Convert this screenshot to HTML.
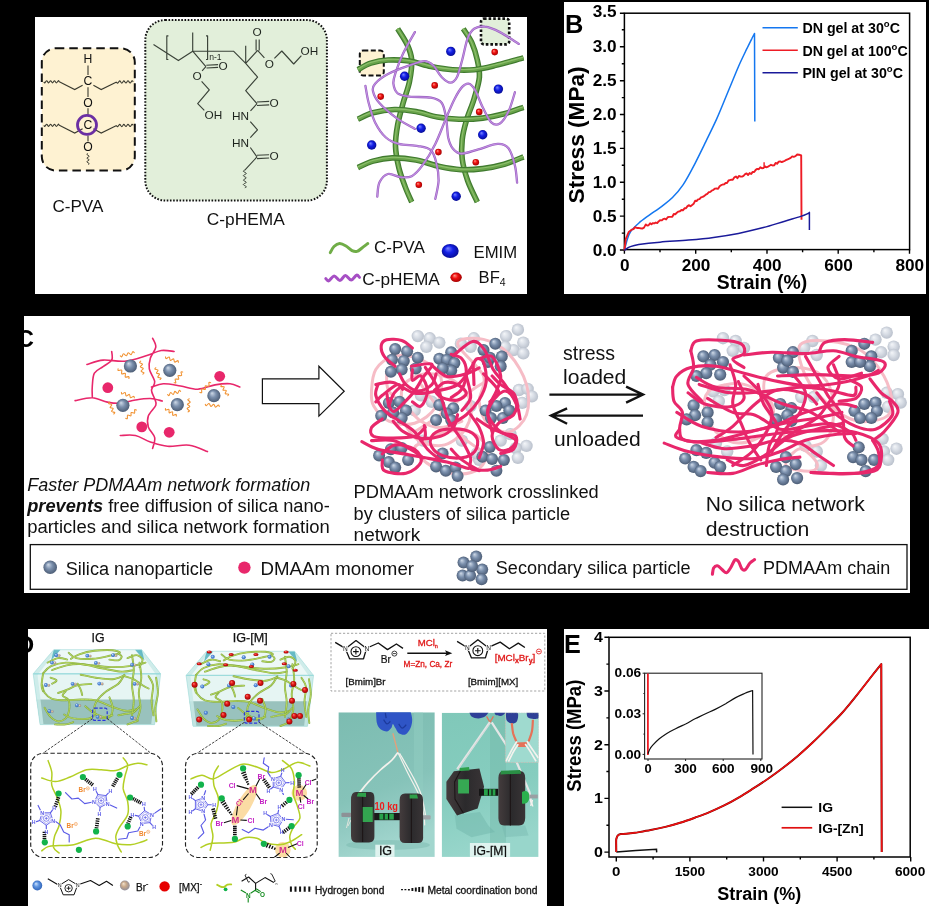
<!DOCTYPE html>
<html><head><meta charset="utf-8"><title>figure</title>
<style>
html,body{margin:0;padding:0;background:#000;}
body{width:929px;height:906px;overflow:hidden;font-family:"Liberation Sans",sans-serif;}
svg{display:block;will-change:transform;}
text{font-family:"Liberation Sans",sans-serif;}
</style></head><body>
<svg width="929" height="906" viewBox="0 0 929 906">
<rect width="929" height="906" fill="#000"/>
<rect x="35" y="17" width="492" height="277" fill="#fff"/>
<rect x="564" y="2" width="362" height="292" fill="#fff"/>
<rect x="24" y="316" width="886" height="277" fill="#fff"/>
<rect x="28" y="629" width="519" height="277" fill="#fff"/>
<rect x="564" y="629" width="365" height="277" fill="#fff"/>
<!-- defs -->
<defs>
<radialGradient id="gBlue" cx="0.5" cy="0.5" r="0.55" fx="0.35" fy="0.3"><stop offset="0" stop-color="#7a86ff"/><stop offset="0.45" stop-color="#1420e6"/><stop offset="1" stop-color="#050a8c"/></radialGradient>
<radialGradient id="gRed" cx="0.5" cy="0.5" r="0.55" fx="0.35" fy="0.3"><stop offset="0" stop-color="#ff9a8a"/><stop offset="0.45" stop-color="#f01010"/><stop offset="1" stop-color="#9a0000"/></radialGradient>
<radialGradient id="gGrey" cx="0.5" cy="0.5" r="0.55" fx="0.35" fy="0.3"><stop offset="0" stop-color="#cfdae8"/><stop offset="0.45" stop-color="#7b90ad"/><stop offset="1" stop-color="#46566e"/></radialGradient>
<radialGradient id="gLite" cx="0.5" cy="0.5" r="0.55" fx="0.35" fy="0.3"><stop offset="0" stop-color="#f4f6f9"/><stop offset="0.45" stop-color="#d9dee6"/><stop offset="1" stop-color="#b5bcc8"/></radialGradient>
<radialGradient id="gRed2" cx="0.5" cy="0.5" r="0.55" fx="0.35" fy="0.3"><stop offset="0" stop-color="#ff7a70"/><stop offset="0.45" stop-color="#e01818"/><stop offset="1" stop-color="#900000"/></radialGradient>
<radialGradient id="gIonB" cx="0.5" cy="0.5" r="0.55" fx="0.35" fy="0.3"><stop offset="0" stop-color="#cfe4ff"/><stop offset="0.45" stop-color="#5f95e0"/><stop offset="1" stop-color="#2b5fb5"/></radialGradient>
<radialGradient id="gIonT" cx="0.5" cy="0.5" r="0.55" fx="0.35" fy="0.3"><stop offset="0" stop-color="#f2e2cf"/><stop offset="0.45" stop-color="#c9a98a"/><stop offset="1" stop-color="#8a8a9a"/></radialGradient>
</defs>
<!-- pA -->
<g font-family="Liberation Sans, sans-serif" fill="#111">
<rect x="41.8" y="48.2" width="93" height="122.4" rx="14" ry="14" fill="#fef2d2" stroke="#111" stroke-width="2" stroke-dasharray="8.5 5"/>
<path d="M43.8 81.8C44 82 44.3 83.1 44.8 82.9C45.3 82.7 46.1 80.7 46.7 80.7C47.4 80.7 48 82.9 48.6 82.9C49.3 82.9 49.9 80.7 50.6 80.7C51.2 80.7 51.9 82.9 52.5 82.9C53.2 82.9 53.8 80.7 54.5 80.7C55.1 80.7 55.7 82.9 56.4 82.9C57 82.9 57.8 80.9 58.3 80.7C58.8 80.5 59.1 81.6 59.3 81.8M59.3 81.8L74.7 89.6L82.6 85.2M93.4 85.2L101.2 89.6L116.6 82.1M116.6 82.1C116.8 82.3 117.1 83.4 117.7 83.2C118.2 83 119 81 119.7 80.9C120.4 80.9 121.1 83.1 121.8 83.1C122.5 83.1 123.2 80.9 123.8 80.9C124.5 80.9 125.3 83 126 83C126.6 83 127.3 80.8 128 80.8C128.7 80.8 129.4 83 130.1 83C130.8 82.9 131.6 80.9 132.1 80.7C132.7 80.5 133 81.6 133.2 81.8M43.8 125.3C44 125.5 44.3 126.6 44.8 126.4C45.3 126.2 46.1 124.2 46.7 124.2C47.4 124.2 48 126.4 48.6 126.4C49.3 126.4 49.9 124.2 50.6 124.2C51.2 124.2 51.9 126.4 52.5 126.4C53.2 126.4 53.8 124.2 54.5 124.2C55.1 124.2 55.7 126.4 56.4 126.4C57 126.4 57.8 124.4 58.3 124.2C58.8 124 59.1 125.1 59.3 125.3M59.3 125.3L74.7 133.1L82.6 128.7M93.4 128.7L101.2 133.1L116.6 125.6M116.6 125.6C116.8 125.8 117.1 126.9 117.7 126.7C118.2 126.5 119 124.5 119.7 124.4C120.4 124.4 121.1 126.6 121.8 126.6C122.5 126.6 123.2 124.4 123.8 124.4C124.5 124.4 125.3 126.5 126 126.5C126.6 126.5 127.3 124.3 128 124.3C128.7 124.3 129.4 126.5 130.1 126.5C130.8 126.4 131.6 124.4 132.1 124.2C132.7 124 133 125.1 133.2 125.3" fill="none" stroke="#3b3b30" stroke-width="1.1"/>
<path d="M88 65.5V75M88 87.3V97M88 108.3V115M88 135.5V141.5" stroke="#3b3b30" stroke-width="1.1"/>
<path d="M88 153.5C87.8 153.7 86.6 154 86.8 154.4C87 154.9 89.2 155.6 89.2 156.2C89.2 156.9 86.8 157.5 86.8 158.1C86.8 158.7 89.2 159.3 89.2 159.9C89.2 160.5 86.8 161.1 86.8 161.8C86.8 162.4 89 163.1 89.2 163.6C89.4 164 88.2 164.3 88 164.5" fill="none" stroke="#3b3b30" stroke-width="1"/>
<text x="88" y="63.3" font-size="12.2" text-anchor="middle">H</text>
<text x="88" y="85.2" font-size="12.2" text-anchor="middle">C</text>
<text x="88" y="107.2" font-size="12.2" text-anchor="middle">O</text>
<text x="88" y="129.3" font-size="12.2" text-anchor="middle">C</text>
<text x="88" y="151.3" font-size="12.2" text-anchor="middle">O</text>
<circle cx="87" cy="124.9" r="9.5" fill="none" stroke="#6b2fa3" stroke-width="2.8"/>
<text x="52.4" y="212" font-size="17" textLength="51" lengthAdjust="spacingAndGlyphs">C-PVA</text>
<rect x="145.3" y="20" width="181.6" height="180.6" rx="20" ry="20" fill="#e2efda" stroke="#111" stroke-width="2" stroke-dasharray="1.6 1.6"/>
<path d="M153.5 44.6L178.4 60.6L192.7 51.2M192.7 32.5L192.7 51.2M192.7 51.2L233.5 51.2L245.7 63.4M192.7 51.2L205.9 66.7M206.3 65.2L218.1 64.6M206.5 68L218.1 67.4M205.9 66.7L202.1 70.8M201.6 81.3L209.3 89.9L197.7 103.7L204.3 110.3M168.4 35.8L166.8 35.8L166.8 59.5L168.4 59.5M206 35.8L207.6 35.8L207.6 59.5L206 59.5M245.7 45.7L245.7 63.4M245.7 63.4L257.6 50.4M256.1 39.6L256.1 50.6M259.2 39.6L259.2 50.6M257.6 50.4L264.4 57.8M274.4 58.3L281.8 51L293.7 64L301.4 55.7M245.7 63.4L257.6 77.1L245.7 90.7L257 103.7M257 102L269.2 101.4M257 105.5L269.2 104.9M257 103.7L250.5 110.8M250.3 121.6L257.5 129.8L250.3 137.6M250.3 147.5L257 156.9M257 155.2L269.1 154.7M257 158.6L269.1 158M257 156.9L244.8 170.2" fill="none" stroke="#3a4238" stroke-width="1.15" stroke-linejoin="round"/>
<path d="M244.8 170.2C244.6 170.4 243.1 170.7 243.3 171.3C243.6 171.8 246.3 172.8 246.3 173.5C246.3 174.2 243.3 175 243.3 175.7C243.3 176.4 246.3 177.2 246.3 177.9C246.3 178.6 243.3 179.4 243.3 180.1C243.3 180.8 246.3 181.6 246.3 182.3C246.3 183 243.3 183.8 243.3 184.5C243.3 185.2 246.1 186.2 246.3 186.7C246.6 187.3 245.1 187.6 244.8 187.8" fill="none" stroke="#3a4238" stroke-width="1"/>
<text x="223.2" y="69.8" font-size="11.8" text-anchor="middle" fill="#1e241e">O</text>
<text x="197.2" y="80.3" font-size="11.8" text-anchor="middle" fill="#1e241e">O</text>
<text x="204.6" y="119.2" font-size="11.8" text-anchor="start" fill="#1e241e">OH</text>
<text x="257" y="36.3" font-size="11.8" text-anchor="middle" fill="#1e241e">O</text>
<text x="269.4" y="67.6" font-size="11.8" text-anchor="middle" fill="#1e241e">O</text>
<text x="300.6" y="55.2" font-size="11.8" text-anchor="start" fill="#1e241e">OH</text>
<text x="274.2" y="107.3" font-size="11.8" text-anchor="middle" fill="#1e241e">O</text>
<text x="274.2" y="160" font-size="11.8" text-anchor="middle" fill="#1e241e">O</text>
<text x="249" y="120.4" font-size="11.8" text-anchor="end" fill="#1e241e">HN</text>
<text x="249" y="147" font-size="11.8" text-anchor="end" fill="#1e241e">HN</text>
<text x="209.2" y="59.6" font-size="8.6" text-anchor="start" fill="#1e241e">n-1</text>
<text x="206.8" y="225" font-size="17" textLength="78" lengthAdjust="spacingAndGlyphs">C-pHEMA</text>
<rect x="359.8" y="50.5" width="24" height="25" rx="3.5" fill="#fef2d2" stroke="#111" stroke-width="2" stroke-dasharray="5 2.5"/>
<rect x="481" y="18.6" width="28.2" height="25.8" rx="3" fill="#e2efda" stroke="#111" stroke-width="2.6" stroke-dasharray="2.6 2"/>
<path d="M397.7 28.8C399.3 31.5 405.1 39.8 407.4 45C409.7 50.2 411.3 53.9 411.7 60C412.1 66.1 410.9 74.3 409.5 81.5C408.1 88.7 405.1 95.8 403.1 103C401.1 110.2 399 117.4 397.7 124.6C396.4 131.8 395.3 138.9 395.5 146.1C395.7 153.3 397.2 160.8 398.8 167.6C400.4 174.4 403.1 181.2 405.2 186.9C407.3 192.6 410.6 199.5 411.7 202" fill="none" stroke="#3f7a2e" stroke-width="5.6"/>
<path d="M397.7 28.8C399.3 31.5 405.1 39.8 407.4 45C409.7 50.2 411.3 53.9 411.7 60C412.1 66.1 410.9 74.3 409.5 81.5C408.1 88.7 405.1 95.8 403.1 103C401.1 110.2 399 117.4 397.7 124.6C396.4 131.8 395.3 138.9 395.5 146.1C395.7 153.3 397.2 160.8 398.8 167.6C400.4 174.4 403.1 181.2 405.2 186.9C407.3 192.6 410.6 199.5 411.7 202" fill="none" stroke="#69a34a" stroke-width="3.4"/>
<path d="M397.7 28.8C399.3 31.5 405.1 39.8 407.4 45C409.7 50.2 411.3 53.9 411.7 60C412.1 66.1 410.9 74.3 409.5 81.5C408.1 88.7 405.1 95.8 403.1 103C401.1 110.2 399 117.4 397.7 124.6C396.4 131.8 395.3 138.9 395.5 146.1C395.7 153.3 397.2 160.8 398.8 167.6C400.4 174.4 403.1 181.2 405.2 186.9C407.3 192.6 410.6 199.5 411.7 202" fill="none" stroke="#8dc06c" stroke-width="1.1" transform="translate(-0.4 -0.6)"/>
<path d="M463.3 28.8C464.7 31.1 469.6 37.6 471.9 42.8C474.2 48 476.1 54.3 477.3 60C478.6 65.7 479.9 70.8 479.4 77.2C478.9 83.7 476.2 91.5 474.1 98.7C472 105.9 468.5 113.4 466.5 120.2C464.5 127 462.9 133.1 462.2 139.6C461.5 146.1 461.3 152.2 462.2 159C463.1 165.8 465.1 173.3 467.6 180.5C470.1 187.7 475.7 198.4 477.3 202" fill="none" stroke="#3f7a2e" stroke-width="5.6"/>
<path d="M463.3 28.8C464.7 31.1 469.6 37.6 471.9 42.8C474.2 48 476.1 54.3 477.3 60C478.6 65.7 479.9 70.8 479.4 77.2C478.9 83.7 476.2 91.5 474.1 98.7C472 105.9 468.5 113.4 466.5 120.2C464.5 127 462.9 133.1 462.2 139.6C461.5 146.1 461.3 152.2 462.2 159C463.1 165.8 465.1 173.3 467.6 180.5C470.1 187.7 475.7 198.4 477.3 202" fill="none" stroke="#69a34a" stroke-width="3.4"/>
<path d="M463.3 28.8C464.7 31.1 469.6 37.6 471.9 42.8C474.2 48 476.1 54.3 477.3 60C478.6 65.7 479.9 70.8 479.4 77.2C478.9 83.7 476.2 91.5 474.1 98.7C472 105.9 468.5 113.4 466.5 120.2C464.5 127 462.9 133.1 462.2 139.6C461.5 146.1 461.3 152.2 462.2 159C463.1 165.8 465.1 173.3 467.6 180.5C470.1 187.7 475.7 198.4 477.3 202" fill="none" stroke="#8dc06c" stroke-width="1.1" transform="translate(-0.4 -0.6)"/>
<path d="M357.9 69.7C360 68.6 365.8 64.8 370.8 63.2C375.8 61.6 381.6 60.4 388 60C394.4 59.6 402.3 60 409.5 61.1C416.7 62.2 423.8 65.1 431 66.5C438.2 67.9 445.4 69.2 452.6 69.7C459.8 70.2 466.9 70.4 474.1 69.7C481.3 69 487.4 67.4 495.6 65.4C503.8 63.4 518.9 59.1 523.5 57.9" fill="none" stroke="#3f7a2e" stroke-width="5.6"/>
<path d="M357.9 69.7C360 68.6 365.8 64.8 370.8 63.2C375.8 61.6 381.6 60.4 388 60C394.4 59.6 402.3 60 409.5 61.1C416.7 62.2 423.8 65.1 431 66.5C438.2 67.9 445.4 69.2 452.6 69.7C459.8 70.2 466.9 70.4 474.1 69.7C481.3 69 487.4 67.4 495.6 65.4C503.8 63.4 518.9 59.1 523.5 57.9" fill="none" stroke="#69a34a" stroke-width="3.4"/>
<path d="M357.9 69.7C360 68.6 365.8 64.8 370.8 63.2C375.8 61.6 381.6 60.4 388 60C394.4 59.6 402.3 60 409.5 61.1C416.7 62.2 423.8 65.1 431 66.5C438.2 67.9 445.4 69.2 452.6 69.7C459.8 70.2 466.9 70.4 474.1 69.7C481.3 69 487.4 67.4 495.6 65.4C503.8 63.4 518.9 59.1 523.5 57.9" fill="none" stroke="#8dc06c" stroke-width="1.1" transform="translate(-0.4 -0.6)"/>
<path d="M357.9 119.2C360.4 118.1 366.9 114.3 373 112.7C379.1 111.1 387.3 109.7 394.5 109.5C401.7 109.3 408.8 110.3 416 111.6C423.2 112.8 430.3 115.7 437.5 117C444.7 118.3 451.5 119 459 119.2C466.5 119.4 475.2 119 482.7 118.1C490.2 117.2 497.4 115.6 504.2 113.8C511 112 520.3 108.4 523.5 107.3" fill="none" stroke="#3f7a2e" stroke-width="5.6"/>
<path d="M357.9 119.2C360.4 118.1 366.9 114.3 373 112.7C379.1 111.1 387.3 109.7 394.5 109.5C401.7 109.3 408.8 110.3 416 111.6C423.2 112.8 430.3 115.7 437.5 117C444.7 118.3 451.5 119 459 119.2C466.5 119.4 475.2 119 482.7 118.1C490.2 117.2 497.4 115.6 504.2 113.8C511 112 520.3 108.4 523.5 107.3" fill="none" stroke="#69a34a" stroke-width="3.4"/>
<path d="M357.9 119.2C360.4 118.1 366.9 114.3 373 112.7C379.1 111.1 387.3 109.7 394.5 109.5C401.7 109.3 408.8 110.3 416 111.6C423.2 112.8 430.3 115.7 437.5 117C444.7 118.3 451.5 119 459 119.2C466.5 119.4 475.2 119 482.7 118.1C490.2 117.2 497.4 115.6 504.2 113.8C511 112 520.3 108.4 523.5 107.3" fill="none" stroke="#8dc06c" stroke-width="1.1" transform="translate(-0.4 -0.6)"/>
<path d="M357.9 167.6C360.4 166.5 367.3 162.7 373 161.1C378.7 159.5 385.1 158.1 392.3 157.9C399.5 157.7 408.1 158.6 416 160C423.9 161.4 432.1 164.9 439.6 166.5C447.1 168.1 454 169.3 461.2 169.7C468.4 170 475.5 169.5 482.7 168.6C489.9 167.7 497.4 166.3 504.2 164.3C511 162.3 520.3 158.1 523.5 156.8" fill="none" stroke="#3f7a2e" stroke-width="5.6"/>
<path d="M357.9 167.6C360.4 166.5 367.3 162.7 373 161.1C378.7 159.5 385.1 158.1 392.3 157.9C399.5 157.7 408.1 158.6 416 160C423.9 161.4 432.1 164.9 439.6 166.5C447.1 168.1 454 169.3 461.2 169.7C468.4 170 475.5 169.5 482.7 168.6C489.9 167.7 497.4 166.3 504.2 164.3C511 162.3 520.3 158.1 523.5 156.8" fill="none" stroke="#69a34a" stroke-width="3.4"/>
<path d="M357.9 167.6C360.4 166.5 367.3 162.7 373 161.1C378.7 159.5 385.1 158.1 392.3 157.9C399.5 157.7 408.1 158.6 416 160C423.9 161.4 432.1 164.9 439.6 166.5C447.1 168.1 454 169.3 461.2 169.7C468.4 170 475.5 169.5 482.7 168.6C489.9 167.7 497.4 166.3 504.2 164.3C511 162.3 520.3 158.1 523.5 156.8" fill="none" stroke="#8dc06c" stroke-width="1.1" transform="translate(-0.4 -0.6)"/>
<path d="M414.9 32.1C412.9 35.6 406.3 46.8 403.1 53.6C399.9 60.4 397.2 67.9 395.5 72.9C393.9 77.9 393 80.3 393.4 83.7C393.8 87.1 395 91.2 397.7 93.4C400.4 95.5 404 95.9 409.5 96.6C415.1 97.3 425.7 96.6 431 97.7C436.4 98.7 439.3 99.6 441.8 103C444.3 106.4 445 112.4 446.1 118.1C447.2 123.8 447.2 132.4 448.2 137.5C449.3 142.5 450.4 145.5 452.6 148.2C454.7 150.9 456.9 153.4 461.2 153.6C465.5 153.8 472.3 150.9 478.4 149.3C484.5 147.7 492.7 144.1 497.7 143.9C502.7 143.7 505.6 144.6 508.5 148.2C511.3 151.8 513.5 159.7 514.9 165.4C516.4 171.2 516.7 179.8 517.1 182.6" fill="none" stroke="#9a5fc0" stroke-width="2.3" stroke-linecap="round"/>
<path d="M414.9 32.1C412.9 35.6 406.3 46.8 403.1 53.6C399.9 60.4 397.2 67.9 395.5 72.9C393.9 77.9 393 80.3 393.4 83.7C393.8 87.1 395 91.2 397.7 93.4C400.4 95.5 404 95.9 409.5 96.6C415.1 97.3 425.7 96.6 431 97.7C436.4 98.7 439.3 99.6 441.8 103C444.3 106.4 445 112.4 446.1 118.1C447.2 123.8 447.2 132.4 448.2 137.5C449.3 142.5 450.4 145.5 452.6 148.2C454.7 150.9 456.9 153.4 461.2 153.6C465.5 153.8 472.3 150.9 478.4 149.3C484.5 147.7 492.7 144.1 497.7 143.9C502.7 143.7 505.6 144.6 508.5 148.2C511.3 151.8 513.5 159.7 514.9 165.4C516.4 171.2 516.7 179.8 517.1 182.6" fill="none" stroke="#c08fe0" stroke-width="1.1" stroke-linecap="round"/>
<path d="M518.8 43.9C515.6 41.9 505.5 34.9 499.9 32.1C494.2 29.2 489.1 27.2 484.8 26.7C480.5 26.1 476.9 26.9 474.1 28.8C471.2 30.8 469.6 33.3 467.6 38.5C465.6 43.7 464 53.6 462.2 60C460.4 66.5 458.8 73.5 456.9 77.2C454.9 81 452.9 82.6 450.4 82.6C447.9 82.6 444.7 80.1 441.8 77.2C438.9 74.4 436.1 68.1 433.2 65.4C430.3 62.7 428.5 61.1 424.6 61.1C420.6 61.1 415.6 63.2 409.5 65.4C403.4 67.5 393.8 71 388 74C382.3 77 377.6 80.8 375.1 83.7C372.6 86.5 372.2 88 373 91.2C373.7 94.4 375.5 98.6 379.4 103C383.4 107.5 390.7 113.8 396.6 118.1C402.5 122.4 411.9 127.1 414.9 128.9" fill="none" stroke="#9a5fc0" stroke-width="2.3" stroke-linecap="round"/>
<path d="M518.8 43.9C515.6 41.9 505.5 34.9 499.9 32.1C494.2 29.2 489.1 27.2 484.8 26.7C480.5 26.1 476.9 26.9 474.1 28.8C471.2 30.8 469.6 33.3 467.6 38.5C465.6 43.7 464 53.6 462.2 60C460.4 66.5 458.8 73.5 456.9 77.2C454.9 81 452.9 82.6 450.4 82.6C447.9 82.6 444.7 80.1 441.8 77.2C438.9 74.4 436.1 68.1 433.2 65.4C430.3 62.7 428.5 61.1 424.6 61.1C420.6 61.1 415.6 63.2 409.5 65.4C403.4 67.5 393.8 71 388 74C382.3 77 377.6 80.8 375.1 83.7C372.6 86.5 372.2 88 373 91.2C373.7 94.4 375.5 98.6 379.4 103C383.4 107.5 390.7 113.8 396.6 118.1C402.5 122.4 411.9 127.1 414.9 128.9" fill="none" stroke="#c08fe0" stroke-width="1.1" stroke-linecap="round"/>
<path d="M365.4 85.8C366 88.7 367 96.9 368.7 103C370.3 109.1 372.2 116.7 375.1 122.4C378 128.1 381.9 133.9 385.9 137.5C389.8 141 393.4 142.5 398.8 143.9C404.2 145.3 412.8 145 418.1 146.1C423.5 147.1 428 147.5 431 150.4C434.1 153.2 435.2 158.2 436.4 163.3C437.7 168.3 438.7 174.6 438.6 180.5C438.4 186.4 435.9 195.7 435.3 198.8" fill="none" stroke="#9a5fc0" stroke-width="2.3" stroke-linecap="round"/>
<path d="M365.4 85.8C366 88.7 367 96.9 368.7 103C370.3 109.1 372.2 116.7 375.1 122.4C378 128.1 381.9 133.9 385.9 137.5C389.8 141 393.4 142.5 398.8 143.9C404.2 145.3 412.8 145 418.1 146.1C423.5 147.1 428 147.5 431 150.4C434.1 153.2 435.2 158.2 436.4 163.3C437.7 168.3 438.7 174.6 438.6 180.5C438.4 186.4 435.9 195.7 435.3 198.8" fill="none" stroke="#c08fe0" stroke-width="1.1" stroke-linecap="round"/>
<path d="M377.3 196.6C377.6 194.3 377.6 186.4 379.4 182.6C381.2 178.9 384.4 174.9 388 174C391.6 173.1 397 176.9 400.9 177.2C404.9 177.6 408.1 178.1 411.7 176.2C415.3 174.2 418.5 170.8 422.4 165.4C426.4 160 431.4 151.8 435.3 143.9C439.3 136 442.9 125.6 446.1 118.1C449.3 110.6 452 103.9 454.7 98.7C457.4 93.5 459.9 89.4 462.2 86.9C464.6 84.4 466.5 83.1 468.7 83.7C470.8 84.2 472.8 86.2 475.1 90.1C477.5 94.1 480 102 482.7 107.3C485.4 112.7 488.4 119.7 491.3 122.4C494.1 125.1 497 125.3 499.9 123.5C502.7 121.7 506 116.8 508.5 111.6C511 106.4 513.9 95.5 514.9 92.3" fill="none" stroke="#9a5fc0" stroke-width="2.3" stroke-linecap="round"/>
<path d="M377.3 196.6C377.6 194.3 377.6 186.4 379.4 182.6C381.2 178.9 384.4 174.9 388 174C391.6 173.1 397 176.9 400.9 177.2C404.9 177.6 408.1 178.1 411.7 176.2C415.3 174.2 418.5 170.8 422.4 165.4C426.4 160 431.4 151.8 435.3 143.9C439.3 136 442.9 125.6 446.1 118.1C449.3 110.6 452 103.9 454.7 98.7C457.4 93.5 459.9 89.4 462.2 86.9C464.6 84.4 466.5 83.1 468.7 83.7C470.8 84.2 472.8 86.2 475.1 90.1C477.5 94.1 480 102 482.7 107.3C485.4 112.7 488.4 119.7 491.3 122.4C494.1 125.1 497 125.3 499.9 123.5C502.7 121.7 506 116.8 508.5 111.6C511 106.4 513.9 95.5 514.9 92.3" fill="none" stroke="#c08fe0" stroke-width="1.1" stroke-linecap="round"/>
<circle cx="450.8" cy="51.4" r="4.7" fill="url(#gBlue)"/>
<circle cx="404.6" cy="76.2" r="4.7" fill="url(#gBlue)"/>
<circle cx="498.4" cy="89.1" r="4.7" fill="url(#gBlue)"/>
<circle cx="421.1" cy="128.2" r="4.7" fill="url(#gBlue)"/>
<circle cx="482.7" cy="134.7" r="4.7" fill="url(#gBlue)"/>
<circle cx="371.7" cy="145" r="4.7" fill="url(#gBlue)"/>
<circle cx="456.2" cy="196.2" r="4.7" fill="url(#gBlue)"/>
<circle cx="494.7" cy="52.1" r="3.3" fill="url(#gRed)"/>
<circle cx="434.7" cy="85.4" r="3.3" fill="url(#gRed)"/>
<circle cx="380.7" cy="96.6" r="3.3" fill="url(#gRed)"/>
<circle cx="479.2" cy="111.9" r="3.3" fill="url(#gRed)"/>
<circle cx="438.4" cy="152.1" r="3.3" fill="url(#gRed)"/>
<circle cx="475.8" cy="162.2" r="3.3" fill="url(#gRed)"/>
<circle cx="418.8" cy="184.8" r="3.3" fill="url(#gRed)"/>
<path d="M330.3 252.6C330.9 251.6 332.4 248 334 246.5C335.6 245 337.6 243.7 339.6 243.6C341.6 243.5 343.9 244.8 346 246C348.1 247.2 350.2 249.7 352 250.6C353.8 251.5 355.3 251.8 357 251.4C358.7 251 360.2 249.3 362 248C363.8 246.7 366.8 244.3 367.8 243.6" fill="none" stroke="#70ad47" stroke-width="3" stroke-linecap="round"/>
<path d="M325.8 278.6C326.3 279 327.3 281.3 328.7 280.9C330.1 280.4 332.3 276 334.1 275.9C336 275.8 338.1 280.6 339.9 280.5C341.8 280.4 343.5 275.6 345.4 275.5C347.2 275.4 349.3 280.2 351.2 280.1C353 280 355.2 275.6 356.6 275.1C358 274.7 359 277 359.5 277.4" fill="none" stroke="#a64fc4" stroke-width="3" stroke-linecap="round" stroke-linejoin="round"/>
<text x="373.9" y="252.9" font-size="16.6" textLength="51" lengthAdjust="spacingAndGlyphs">C-PVA</text>
<text x="362.2" y="285" font-size="16.6" textLength="77.6" lengthAdjust="spacingAndGlyphs">C-pHEMA</text>
<ellipse cx="450.2" cy="251" rx="8.5" ry="7.1" fill="url(#gBlue)"/>
<ellipse cx="456.1" cy="277.3" rx="5.7" ry="4.8" fill="url(#gRed)"/>
<text x="473.5" y="257.6" font-size="16.6" textLength="43.6" lengthAdjust="spacingAndGlyphs">EMIM</text>
<text x="478.6" y="282.5" font-size="16.6">BF<tspan font-size="10.5" dy="3.5">4</tspan></text>
</g>
<!-- pB -->
<g font-family="Liberation Sans, sans-serif" font-weight="bold" fill="#000">
<text x="565.1" y="33" font-size="25.4">B</text>
<rect x="624.4" y="13.2" width="285.2" height="236.4" fill="none" stroke="#000" stroke-width="1.5"/>
<path d="M624.4 250h-4.5M624.4 233.1h-2.6M624.4 216.1h-4.5M624.4 199.2h-2.6M624.4 182.3h-4.5M624.4 165.3h-2.6M624.4 148.4h-4.5M624.4 131.5h-2.6M624.4 114.5h-4.5M624.4 97.6h-2.6M624.4 80.7h-4.5M624.4 63.7h-2.6M624.4 46.8h-4.5M624.4 29.8h-2.6M624.4 13.2h-4.5M624.4 249.6v4.2M660 249.6v2.6M695.7 249.6v4.2M731.3 249.6v2.6M767 249.6v4.2M802.6 249.6v2.6M838.2 249.6v4.2M873.9 249.6v2.6M909.5 249.6v4.2" stroke="#000" stroke-width="1.4" fill="none"/>
<text x="616.6" y="255.6" font-size="17.2" text-anchor="end">0.0</text>
<text x="616.6" y="221.7" font-size="17.2" text-anchor="end">0.5</text>
<text x="616.6" y="187.9" font-size="17.2" text-anchor="end">1.0</text>
<text x="616.6" y="154" font-size="17.2" text-anchor="end">1.5</text>
<text x="616.6" y="120.1" font-size="17.2" text-anchor="end">2.0</text>
<text x="616.6" y="86.2" font-size="17.2" text-anchor="end">2.5</text>
<text x="616.6" y="52.4" font-size="17.2" text-anchor="end">3.0</text>
<text x="616.6" y="16.9" font-size="17.2" text-anchor="end">3.5</text>
<text x="624.7" y="270.5" font-size="17.2" text-anchor="middle">0</text>
<text x="696" y="270.5" font-size="17.2" text-anchor="middle">200</text>
<text x="767.2" y="270.5" font-size="17.2" text-anchor="middle">400</text>
<text x="838.5" y="270.5" font-size="17.2" text-anchor="middle">600</text>
<text x="909.8" y="270.5" font-size="17.2" text-anchor="middle">800</text>
<text x="762" y="288.6" font-size="20" text-anchor="middle" textLength="90.5" lengthAdjust="spacingAndGlyphs">Strain (%)</text>
<text transform="translate(583.8 134.9) rotate(-90)" font-size="22" text-anchor="middle" textLength="137" lengthAdjust="spacingAndGlyphs">Stress (MPa)</text>
<path d="M624.4 250.3C624.9 248.5 626.2 242.6 627.3 239.5C628.3 236.3 628.9 234 630.8 231.3C632.7 228.6 635.6 225.9 638.7 223.2C641.7 220.5 645.5 217.9 649.3 215.1C653.2 212.3 658 209.2 661.8 206.3C665.7 203.3 668.9 201.1 672.5 197.5C676.1 193.9 679.5 190.1 683.2 184.6C686.9 179.1 690.9 171.4 694.6 164.3C698.3 157.2 702 149.5 705.7 141.9C709.3 134.4 713 127.1 716.7 118.9C720.4 110.6 724.1 101.2 727.7 92.5C731.4 83.8 735.2 74.1 738.4 66.7C741.6 59.4 744.7 53.2 747 48.4C749.3 43.7 750.7 40.8 752 38.3C753.2 35.8 754.1 34.3 754.5 33.5L754.8 121.6" fill="none" stroke="#1477f0" stroke-width="1.5" stroke-linejoin="round"/>
<path d="M624.4 250.3L625.8 238.8L627.3 235.4L628.7 232L630.3 230.8L631.9 229.6L633.5 229.1L635.1 227.2L636.9 228L638.7 227.9L640.4 228.3L642.2 228.6L644 227.6L645.8 224.4L647.2 225.6L648.6 225.3L650.1 223.2L651.5 224.2L652.9 223.1L654.3 223.4L655.8 222.5L657.2 223.1L658.6 221.4L660 220.3L661.6 220.4L663.1 219.2L664.6 218.7L666.1 219.5L667.7 217.2L669.2 216.9L670.7 216.9L672.3 216.8L673.8 214L675.3 214.2L676.8 212.8L678.4 211.6L679.9 211.3L681.4 210L682.9 210.3L684.5 208.3L686 208.2L687.5 206.1L689.1 205.2L690.6 206.2L692.1 205.1L693.6 203.8L695.1 200.8L696.6 201L698.1 199.4L699.5 199.1L701 197.4L702.6 196.9L704.1 196.1L705.7 194.7L707.3 193.9L708.8 192.2L710.4 191.9L711.9 190.5L713.5 189.8L715 188.6L716.5 188.5L718.1 188.9L719.6 186.3L721.1 185.2L722.7 184.5L724.2 184.4L725.6 183L727 183.1L728.5 180.5L729.9 180.1L731.3 179.7L732.8 179.8L734.4 177.3L735.9 176.5L737.4 178.2L738.9 176L740.5 176.5L742 176.6L743.5 175.8L745.1 174.2L746.6 173.4L748.1 175L749.6 173.1L751.2 174L752.7 171.9L754.2 172L755.7 169.9L757.3 168.9L758.8 169.3L760.3 167.3L761.9 168.2L763.4 168L764.9 166.3L766.4 167.3L768 166.6L769.5 165.7L771 164.8L772.6 165.5L774.1 165.4L775.6 162.9L777.1 163.8L778.7 161.7L780.2 161.4L781.7 162.1L783.2 161.5L784.8 160.8L786.3 159.9L787.7 159.3L789.2 158.7L790.7 157.9L792.2 156.4L793.7 156.8L795.5 156.1L797.2 154.5L799 154.7L801.2 155.5L801.5 219.8" fill="none" stroke="#ee1c25" stroke-width="1.9" stroke-linejoin="round"/>
<path d="M764.1 166.3v-4" stroke="#ee1c25" stroke-width="1.4"/>
<path d="M624.4 250.3C625.3 249.7 627.4 247.9 629.7 246.9C632.1 246 633.6 245.3 638.7 244.5C643.7 243.8 651.7 242.9 660 242.2C668.4 241.4 679.6 240.9 688.5 240.1C697.5 239.3 705.2 238.6 713.5 237.4C721.8 236.3 730.1 235 738.4 233.4C746.8 231.7 755.7 229.6 763.4 227.6C771.1 225.6 778.5 223 784.8 221.2C791 219.3 796.8 217.8 800.8 216.4C804.8 215.1 807.6 213.6 809 213L809.4 212.4L809.4 230" fill="none" stroke="#1a1a9a" stroke-width="1.5" stroke-linejoin="round"/>
<path d="M762.5 27.7H797.8" stroke="#1477f0" stroke-width="1.6"/>
<path d="M762.5 50.3H797.8" stroke="#ee1c25" stroke-width="1.6"/>
<path d="M762.5 72.8H797.8" stroke="#1a1a9a" stroke-width="1.6"/>
<text x="802.4" y="32.6" font-size="14.2" textLength="97.5" lengthAdjust="spacingAndGlyphs">DN gel at 30<tspan font-size="9.5" dy="-5.2">o</tspan><tspan dy="5.2">C</tspan></text>
<text x="802.4" y="55.5" font-size="14.2" textLength="105.3" lengthAdjust="spacingAndGlyphs">DN gel at 100<tspan font-size="9.5" dy="-5.2">o</tspan><tspan dy="5.2">C</tspan></text>
<text x="802.4" y="77.6" font-size="14.2" textLength="100.5" lengthAdjust="spacingAndGlyphs">PIN gel at 30<tspan font-size="9.5" dy="-5.2">o</tspan><tspan dy="5.2">C</tspan></text>
</g>
<!-- pC -->
<g font-family="Liberation Sans, sans-serif" fill="#111">
<text x="16.3" y="346.8" font-size="24.5" font-weight="bold" fill="#000">C</text>
<path d="M86.9 364.4C89.6 363.7 96.8 360.6 103.1 360.1C109.4 359.6 117.4 361.9 124.6 361.2C131.8 360.5 140 357.6 146.1 355.8C152.2 354 156.5 351.2 161.2 350.5C165.9 349.8 171.9 351.3 174.1 351.5M111.7 351.5C111.7 352.9 113.1 357.6 111.7 360.1C110.3 362.6 106 364.4 103.1 366.6C100.2 368.8 96.2 369.9 94.4 373.1C92.6 376.3 92.7 382.1 92.3 386C91.9 389.9 92.3 394.9 92.3 396.7M75.1 400.6C78 400.1 86.9 397.6 92.3 397.8C97.7 398.1 102.7 401.2 107.4 402.1C112.1 403 115.6 403.6 120.3 403.2C125 402.8 130.4 400.8 135.4 400C140.4 399.2 145.9 398.3 150.4 398.5C154.9 398.7 160.3 400.6 162.3 401M152.6 338.2C153.1 339.7 156.2 343.9 155.8 347.2C155.4 350.5 151.5 354.4 150.4 358C149.3 361.6 148.6 364.9 149.3 368.8C150 372.8 154.3 378.1 154.7 381.7C155.1 385.3 151.5 387.4 151.5 390.3C151.5 393.2 154 396.4 154.7 398.9C155.4 401.4 156.9 402.4 155.8 405.3C154.7 408.2 149.6 412.5 148.3 416.1C147.1 419.7 147.2 423.3 148.3 426.9C149.4 430.5 154 434 154.7 437.6C155.4 441.2 152.9 446.6 152.6 448.4M151.5 387C153.5 386.5 158.5 384 163.3 383.8C168.2 383.6 174.8 385.1 180.6 386C186.3 386.9 192.1 389.4 197.8 389.2C203.5 389 209.6 385.8 215 384.9C220.4 384 226 383.4 230.1 383.8C234.2 384.2 238.2 386.5 239.8 387M120.3 435.5C122.8 435.5 130.4 434.4 135.4 435.5C140.4 436.6 145 440.2 150.4 442C155.8 443.8 161.1 445.8 167.6 446.3C174.1 446.8 182.5 444.3 189.2 445.2C195.8 446.1 204.4 450.5 207.5 451.6" fill="none" stroke="#e8276b" stroke-width="1.6" stroke-linecap="round"/>
<circle cx="107.8" cy="387.7" r="5.4" fill="#e8276b"/>
<circle cx="219.7" cy="376.3" r="5.4" fill="#e8276b"/>
<circle cx="141.8" cy="426.9" r="5.4" fill="#e8276b"/>
<circle cx="169.2" cy="432.3" r="5.4" fill="#e8276b"/>
<path d="M120.3 355.8C120.5 356 121.2 357.2 121.7 356.8C122.3 356.5 122.7 353.9 123.5 353.8C124.3 353.6 125.6 355.9 126.4 355.8C127.2 355.6 127.4 352.9 128.2 352.7C128.9 352.5 130.3 354.9 131.1 354.7C131.8 354.5 132.3 352 132.8 351.6C133.3 351.3 134 352.4 134.3 352.6M140.7 361.2C140.5 361.4 139.3 362 139.6 362.5C139.9 363 142.4 363.5 142.6 364.2C142.7 364.9 140.2 366.1 140.3 366.8C140.5 367.5 143.2 367.8 143.3 368.5C143.4 369.3 140.9 370.4 141.1 371.1C141.2 371.8 143.7 372.3 144 372.8C144.3 373.3 143.1 373.9 142.9 374.1M118.1 368.8C118.1 369 117.6 370.3 118.2 370.5C118.7 370.8 121.1 369.7 121.7 370.2C122.3 370.7 121.1 373.2 121.7 373.8C122.3 374.3 124.7 372.9 125.3 373.4C125.9 374 124.7 376.4 125.3 377C125.9 377.5 128.3 376.4 128.9 376.7C129.5 376.9 128.9 378.1 128.9 378.4M165.5 356.9C165.6 357.2 165.4 358.5 166.1 358.6C166.7 358.6 168.5 356.8 169.2 357.1C169.9 357.4 169.7 360.1 170.4 360.4C171.1 360.7 172.8 358.6 173.5 358.9C174.2 359.1 174 361.8 174.7 362.1C175.4 362.4 177.2 360.6 177.8 360.6C178.5 360.7 178.3 362 178.4 362.3M155.8 367.7C155.7 367.9 154.6 368.7 154.9 369.1C155.3 369.5 157.9 369.5 158.1 370.2C158.3 370.8 156.1 372.4 156.4 373.1C156.6 373.7 159.3 373.5 159.5 374.1C159.8 374.8 157.6 376.3 157.8 377C158 377.7 160.6 377.7 161 378.1C161.4 378.5 160.3 379.3 160.1 379.5M174.1 382.7C174.4 382.7 175.6 383.2 175.8 382.7C176 382.1 174.8 379.8 175.2 379.2C175.7 378.6 178.2 379.7 178.7 379.1C179.2 378.5 177.6 376.3 178.1 375.7C178.6 375.1 181.1 376.1 181.6 375.5C182.1 374.9 180.8 372.6 181 372.1C181.2 371.5 182.4 372 182.7 372M121.4 392.4C121.5 392.7 121.3 394.1 121.9 394.1C122.6 394.1 124.4 392.3 125.1 392.6C125.8 392.9 125.5 395.6 126.2 395.9C127 396.2 128.7 394.1 129.4 394.4C130.1 394.7 129.8 397.4 130.5 397.7C131.3 398 133.1 396.1 133.7 396.2C134.3 396.2 134.2 397.5 134.3 397.8M109.5 402.1C109.4 402.4 108.3 403.1 108.7 403.6C109 404 111.6 404 111.8 404.6C112.1 405.3 109.8 406.8 110.1 407.5C110.3 408.2 113 407.9 113.2 408.6C113.5 409.2 111.3 410.8 111.5 411.4C111.8 412.1 114.3 412.1 114.7 412.5C115.1 412.9 114 413.7 113.8 414M125.7 418.3C125.9 418.3 127 419.1 127.3 418.6C127.7 418.1 127 415.6 127.6 415.2C128.2 414.7 130.3 416.3 130.9 415.9C131.5 415.4 130.6 412.9 131.2 412.5C131.8 412 133.9 413.6 134.5 413.2C135.1 412.7 134.4 410.2 134.7 409.7C135.1 409.2 136.1 410 136.4 410.1M167.6 394.6C167.9 394.8 168.5 395.9 169 395.6C169.5 395.2 169.8 392.7 170.6 392.5C171.3 392.3 172.6 394.7 173.3 394.5C174.1 394.3 174.1 391.6 174.9 391.4C175.6 391.3 176.9 393.6 177.6 393.4C178.4 393.2 178.7 390.7 179.2 390.4C179.7 390 180.3 391.2 180.6 391.4M189.2 398.9C188.9 399.1 187.6 399.3 187.8 399.9C188 400.4 190.3 401.5 190.2 402.2C190.1 402.9 187.5 403.4 187.4 404.2C187.4 404.9 189.9 405.8 189.8 406.5C189.8 407.3 187.1 407.8 187.1 408.5C187 409.2 189.3 410.3 189.5 410.8C189.7 411.4 188.3 411.6 188.1 411.8M165.5 408.6C165.5 408.9 165.1 410.1 165.6 410.3C166.2 410.4 168.3 409 168.9 409.4C169.5 409.8 168.6 412.4 169.2 412.8C169.8 413.2 171.9 411.5 172.5 411.9C173.1 412.3 172.2 414.9 172.8 415.3C173.4 415.7 175.5 414.3 176.1 414.4C176.7 414.6 176.2 415.8 176.3 416.1M199.9 392.4C200.2 392.5 201.4 393.2 201.7 392.6C202 392 201.2 389.6 201.8 389C202.4 388.5 204.7 389.9 205.3 389.4C205.9 388.8 204.7 386.4 205.3 385.8C205.9 385.3 208.3 386.7 208.9 386.1C209.5 385.6 208.6 383.2 208.9 382.6C209.2 382 210.4 382.7 210.7 382.7M221.5 384.9C221.4 385.2 220.4 386.1 220.9 386.5C221.3 386.8 223.8 386.3 224.2 386.9C224.6 387.5 222.7 389.5 223 390.1C223.4 390.6 226 389.9 226.3 390.5C226.7 391.1 224.8 393 225.2 393.6C225.6 394.2 228 393.8 228.5 394.1C229 394.4 228 395.4 227.9 395.7M205.3 404.3C205.5 404.5 205.7 405.9 206.3 405.7C206.9 405.6 208.2 403.4 209 403.5C209.8 403.6 210.2 406.3 211 406.5C211.7 406.6 212.9 404.1 213.7 404.2C214.5 404.4 214.8 407.1 215.6 407.2C216.4 407.3 217.7 405.1 218.3 405C219 404.8 219.1 406.2 219.3 406.4" fill="none" stroke="#f19231" stroke-width="1.1" stroke-linecap="round"/>
<circle cx="130.4" cy="366" r="6.6" fill="url(#gGrey)"/>
<circle cx="169.8" cy="370.3" r="6.6" fill="url(#gGrey)"/>
<circle cx="213.9" cy="395.7" r="6.6" fill="url(#gGrey)"/>
<circle cx="122.9" cy="405.3" r="6.6" fill="url(#gGrey)"/>
<circle cx="177.3" cy="404.7" r="6.6" fill="url(#gGrey)"/>
<path d="M262.4 378.8H318.9V366.2L344.2 391.2L318.9 416.1V403.7H262.4Z" fill="#fff" stroke="#111" stroke-width="1.2" stroke-linejoin="miter"/>
<circle cx="417.8" cy="336.1" r="6.2" fill="url(#gLite)"/>
<circle cx="429.7" cy="338.3" r="6.2" fill="url(#gLite)"/>
<circle cx="439.3" cy="342.6" r="6.2" fill="url(#gLite)"/>
<circle cx="426.4" cy="346.9" r="6.2" fill="url(#gLite)"/>
<circle cx="473.8" cy="338.3" r="6.2" fill="url(#gLite)"/>
<circle cx="460.9" cy="343.7" r="6.2" fill="url(#gLite)"/>
<circle cx="470.6" cy="346.9" r="6.2" fill="url(#gLite)"/>
<circle cx="517.9" cy="329.7" r="6.2" fill="url(#gLite)"/>
<circle cx="506.1" cy="336.1" r="6.2" fill="url(#gLite)"/>
<circle cx="523.3" cy="342.6" r="6.2" fill="url(#gLite)"/>
<circle cx="513.6" cy="350.1" r="6.2" fill="url(#gLite)"/>
<circle cx="523.3" cy="353.4" r="6.2" fill="url(#gLite)"/>
<circle cx="505" cy="346.9" r="6.2" fill="url(#gLite)"/>
<circle cx="519" cy="390" r="6.2" fill="url(#gLite)"/>
<circle cx="527.6" cy="388.9" r="6.2" fill="url(#gLite)"/>
<circle cx="531.9" cy="396.4" r="6.2" fill="url(#gLite)"/>
<circle cx="522.2" cy="402.9" r="6.2" fill="url(#gLite)"/>
<circle cx="526.5" cy="445.9" r="6.2" fill="url(#gLite)"/>
<circle cx="515.8" cy="448.1" r="6.2" fill="url(#gLite)"/>
<circle cx="517.9" cy="457.8" r="6.2" fill="url(#gLite)"/>
<circle cx="510.4" cy="434.1" r="6.2" fill="url(#gLite)"/>
<circle cx="500.7" cy="440.6" r="6.2" fill="url(#gLite)"/>
<circle cx="421" cy="395.3" r="6.2" fill="url(#gLite)"/>
<circle cx="431.8" cy="401.8" r="6.2" fill="url(#gLite)"/>
<circle cx="470.6" cy="406.1" r="6.2" fill="url(#gLite)"/>
<circle cx="461.9" cy="440.6" r="6.2" fill="url(#gLite)"/>
<circle cx="479.2" cy="459.9" r="6.2" fill="url(#gLite)"/>
<circle cx="423.2" cy="440.6" r="6.2" fill="url(#gLite)"/>
<circle cx="477" cy="453.5" r="6.2" fill="url(#gLite)"/>
<circle cx="414.6" cy="410.4" r="6.2" fill="url(#gLite)"/>
<path d="M371.5 391C371.9 384.9 372.2 375.3 375.8 369.5C379.4 363.8 385.9 358.4 393.1 356.6C400.2 354.8 411 355.5 418.9 358.8C426.8 362 437.5 368.1 440.4 376C443.3 383.9 440.4 398.2 436.1 406.1C431.8 414 422.5 420.8 414.6 423.3C406.7 425.8 395.6 424.1 388.8 421.2C381.9 418.3 376.6 411.1 373.7 406.1C370.8 401.1 371.2 397.1 371.5 391Z" fill="none" stroke="#f6bcc6" stroke-width="3" stroke-linecap="round"/>
<path d="M403.8 384.6C407.8 379.9 417.1 374.5 425.3 373.8C433.6 373.1 445.8 375.6 453.3 380.3C460.9 384.9 468.4 393.9 470.6 401.8C472.7 409.7 470.6 420.5 466.3 427.6C461.9 434.8 452.6 442.7 444.7 444.9C436.8 447 425.7 444.5 418.9 440.6C412.1 436.6 406.7 427.6 403.8 421.2C401 414.7 401.7 407.9 401.7 401.8C401.7 395.7 399.9 389.3 403.8 384.6Z" fill="none" stroke="#f6bcc6" stroke-width="3" stroke-linecap="round"/>
<path d="M457.6 343.7C457.6 337.6 474.9 337.6 483.5 339.4C492.1 341.2 502.1 346.9 509.3 354.4C516.5 362 523.7 374.5 526.5 384.6C529.4 394.6 529.4 406.8 526.5 414.7C523.7 422.6 515.8 430.5 509.3 431.9C502.9 433.4 492.8 428.4 487.8 423.3C482.8 418.3 479.9 409.7 479.2 401.8C478.5 393.9 487.1 385.7 483.5 376C479.9 366.3 457.6 349.8 457.6 343.7Z" fill="none" stroke="#f6bcc6" stroke-width="3" stroke-linecap="round"/>
<path d="M414.6 449.2C415.7 453.5 424.6 462.3 431.8 466.4C439 470.5 449.7 473.6 457.6 473.9C465.5 474.3 474.1 472.7 479.2 468.5C484.2 464.4 489.2 455.3 487.8 449.2C486.3 443.1 477.7 434.8 470.6 431.9C463.4 429.1 452.3 430.5 444.7 431.9C437.2 433.4 430.4 437.7 425.3 440.6C420.3 443.4 413.5 444.9 414.6 449.2Z" fill="none" stroke="#f6bcc6" stroke-width="3" stroke-linecap="round"/>
<path d="M386.6 373.8C387 376.7 385.5 385.7 388.8 391C392 396.4 400.6 401.1 406 406.1C411.4 411.1 415.3 417.6 421 421.2C426.8 424.8 433.6 427.6 440.4 427.6C447.2 427.6 458.4 422.3 461.9 421.2" fill="none" stroke="#f6bcc6" stroke-width="3" stroke-linecap="round"/>
<path d="M421 384.6C424.3 388.9 433.6 401.8 440.4 410.4C447.2 419 455.5 429.8 461.9 436.3C468.4 442.7 476.3 447 479.2 449.2" fill="none" stroke="#f6bcc6" stroke-width="3" stroke-linecap="round"/>
<path d="M414.6 431.9C418.9 429.1 431.1 421.5 440.4 414.7C449.7 407.9 462.7 396.8 470.6 391C478.5 385.3 484.9 382.1 487.8 380.3" fill="none" stroke="#f6bcc6" stroke-width="3" stroke-linecap="round"/>
<circle cx="395.2" cy="349.1" r="6" fill="url(#gGrey)"/>
<circle cx="407.1" cy="351.2" r="6" fill="url(#gGrey)"/>
<circle cx="417.8" cy="357.7" r="6" fill="url(#gGrey)"/>
<circle cx="403.8" cy="360.9" r="6" fill="url(#gGrey)"/>
<circle cx="392" cy="359.8" r="6" fill="url(#gGrey)"/>
<circle cx="401.7" cy="369.5" r="6" fill="url(#gGrey)"/>
<circle cx="390.9" cy="371.7" r="6" fill="url(#gGrey)"/>
<circle cx="415.7" cy="368.4" r="6" fill="url(#gGrey)"/>
<circle cx="439.3" cy="358.8" r="6" fill="url(#gGrey)"/>
<circle cx="451.2" cy="352.3" r="6" fill="url(#gGrey)"/>
<circle cx="446.9" cy="359.8" r="6" fill="url(#gGrey)"/>
<circle cx="454.4" cy="363.1" r="6" fill="url(#gGrey)"/>
<circle cx="451.2" cy="370.6" r="6" fill="url(#gGrey)"/>
<circle cx="442.6" cy="368.4" r="6" fill="url(#gGrey)"/>
<circle cx="483.5" cy="350.1" r="6" fill="url(#gGrey)"/>
<circle cx="495.3" cy="343.7" r="6" fill="url(#gGrey)"/>
<circle cx="501.8" cy="356.6" r="6" fill="url(#gGrey)"/>
<circle cx="487.8" cy="362" r="6" fill="url(#gGrey)"/>
<circle cx="500.7" cy="366.3" r="6" fill="url(#gGrey)"/>
<circle cx="489.9" cy="357.7" r="6" fill="url(#gGrey)"/>
<circle cx="388.8" cy="402.9" r="6" fill="url(#gGrey)"/>
<circle cx="399.5" cy="401.8" r="6" fill="url(#gGrey)"/>
<circle cx="406" cy="410.4" r="6" fill="url(#gGrey)"/>
<circle cx="401.7" cy="418" r="6" fill="url(#gGrey)"/>
<circle cx="381.2" cy="415.8" r="6" fill="url(#gGrey)"/>
<circle cx="393.1" cy="412.6" r="6" fill="url(#gGrey)"/>
<circle cx="439.3" cy="405" r="6" fill="url(#gGrey)"/>
<circle cx="453.3" cy="408.3" r="6" fill="url(#gGrey)"/>
<circle cx="446.9" cy="413.6" r="6" fill="url(#gGrey)"/>
<circle cx="436.1" cy="420.1" r="6" fill="url(#gGrey)"/>
<circle cx="451.2" cy="420.1" r="6" fill="url(#gGrey)"/>
<circle cx="505" cy="402.9" r="6" fill="url(#gGrey)"/>
<circle cx="485.6" cy="410.4" r="6" fill="url(#gGrey)"/>
<circle cx="496.4" cy="406.1" r="6" fill="url(#gGrey)"/>
<circle cx="491" cy="418" r="6" fill="url(#gGrey)"/>
<circle cx="502.9" cy="418" r="6" fill="url(#gGrey)"/>
<circle cx="509.3" cy="410.4" r="6" fill="url(#gGrey)"/>
<circle cx="390.9" cy="449.2" r="6" fill="url(#gGrey)"/>
<circle cx="401.7" cy="448.1" r="6" fill="url(#gGrey)"/>
<circle cx="379.1" cy="455.6" r="6" fill="url(#gGrey)"/>
<circle cx="408.1" cy="459.9" r="6" fill="url(#gGrey)"/>
<circle cx="388.8" cy="462.1" r="6" fill="url(#gGrey)"/>
<circle cx="395.2" cy="467.5" r="6" fill="url(#gGrey)"/>
<circle cx="442.6" cy="453.5" r="6" fill="url(#gGrey)"/>
<circle cx="436.1" cy="466.4" r="6" fill="url(#gGrey)"/>
<circle cx="445.8" cy="470.7" r="6" fill="url(#gGrey)"/>
<circle cx="455.5" cy="467.5" r="6" fill="url(#gGrey)"/>
<circle cx="457.6" cy="476.1" r="6" fill="url(#gGrey)"/>
<circle cx="489.9" cy="447" r="6" fill="url(#gGrey)"/>
<circle cx="482.4" cy="456.7" r="6" fill="url(#gGrey)"/>
<circle cx="492.1" cy="458.9" r="6" fill="url(#gGrey)"/>
<circle cx="503.9" cy="459.9" r="6" fill="url(#gGrey)"/>
<circle cx="496.4" cy="470.7" r="6" fill="url(#gGrey)"/>
<path d="M395.2 366.3C393.4 364.7 386.8 360 384.4 356.6C382.1 353.2 380.9 348.6 381.2 345.8C381.6 343 383.2 340.7 386.6 339.8C390 338.9 397.4 339.1 401.7 340.5C406 341.8 410.6 346.7 412.4 348" fill="none" stroke="#e8276b" stroke-width="3.1" stroke-linecap="round"/>
<path d="M411.4 366.3C414.8 365.9 429.8 362.3 431.8 364.1C433.8 365.9 426.1 372.6 423.2 377.1C420.3 381.5 417.8 386.7 414.6 391C411.4 395.3 407.2 399.5 403.8 402.9C400.4 406.3 396.6 411.1 394.1 411.5C391.6 411.9 389.9 407.9 388.8 405C387.6 402.2 387.3 396.1 387 394.3" fill="none" stroke="#e8276b" stroke-width="3.1" stroke-linecap="round"/>
<path d="M453.3 355.5C456.6 353.2 467.5 342.4 472.7 341.5C477.9 340.6 481.1 345.5 484.6 350.1C488 354.8 489.8 363.8 493.2 369.5C496.6 375.3 501.1 378.7 505 384.6C509 390.5 514.3 399.3 516.8 405C519.4 410.8 519.5 416.7 520.1 419" fill="none" stroke="#e8276b" stroke-width="3.1" stroke-linecap="round"/>
<path d="M375.8 384.6C378.7 384.2 386.6 381 393.1 382.4C399.5 383.9 407.4 391.8 414.6 393.2C421.8 394.6 428.9 392.5 436.1 391C443.3 389.6 451.9 388.4 457.6 384.6C463.4 380.8 467.3 372.7 470.6 368.4C473.8 364.1 474.8 359.6 477 358.8C479.2 357.9 482.4 359.1 483.9 363.1C485.4 367 486.8 376.3 486.1 382.4C485.3 388.5 482.5 394.3 479.2 399.7C475.9 405 471.3 410.4 466.3 414.7C461.2 419 451.9 423.7 449 425.5" fill="none" stroke="#e8276b" stroke-width="3.1" stroke-linecap="round"/>
<path d="M361.8 441.6C364.5 442.9 371 447.1 378 449.2C385 451.2 395.9 452.5 403.8 453.9C411.7 455.3 418.2 456.4 425.3 457.8C432.5 459.1 439.7 460.3 446.9 462.1C454.1 463.9 464.8 467.5 468.4 468.5" fill="none" stroke="#e8276b" stroke-width="3.1" stroke-linecap="round"/>
<path d="M382.3 419C380.5 420.5 373 424.8 371.5 427.6C370.1 430.5 370.1 434.5 373.7 436.3C377.3 438 386.2 438 393.1 438C399.9 438 409.2 438 414.6 436.3C420 434.5 423.6 428.7 425.3 427.2" fill="none" stroke="#e8276b" stroke-width="3.1" stroke-linecap="round"/>
<path d="M431.8 436.3C433.6 433.4 437.2 430.9 442.6 429.8C448 428.7 458.4 428.4 464.1 429.8C469.8 431.2 475.2 434.8 477 438.4C478.8 442 477.4 448.1 474.9 451.3C472.4 454.6 467.3 457.1 461.9 457.8C456.6 458.5 447.6 457.4 442.6 455.6C437.5 453.8 433.6 450.2 431.8 447C430 443.8 430 439.1 431.8 436.3Z" fill="none" stroke="#e8276b" stroke-width="3.1" stroke-linecap="round"/>
<path d="M477 419C479.2 420.5 485.3 425.1 489.9 427.6C494.6 430.2 500.7 431.9 505 434.1C509.3 436.3 515.1 438 515.8 440.6C516.5 443.1 512.2 447.7 509.3 449.2C506.4 450.6 501.4 451.3 498.5 449.2C495.7 447 492.1 440.6 492.1 436.3C492.1 431.9 495 426.9 498.5 423.3C502.1 419.7 510.7 418.3 513.6 414.7C516.5 411.1 517.2 405.8 515.8 401.8C514.3 397.9 509.3 391 505 391C500.7 391 492.4 400 489.9 401.8" fill="none" stroke="#e8276b" stroke-width="3.1" stroke-linecap="round"/>
<path d="M382.3 459.9C382.7 461.7 380.5 468.5 384.4 470.7C388.4 472.9 399.9 474.7 406 473.3C412.1 471.8 419.6 466.1 421 462.1C422.5 458.1 418.9 452 414.6 449.2C410.3 446.3 400.6 444.1 395.2 444.9C389.8 445.7 384.4 452.4 382.3 453.9" fill="none" stroke="#e8276b" stroke-width="3.1" stroke-linecap="round"/>
<path d="M425.3 367.4C427.1 370.2 433.2 378.8 436.1 384.6C439 390.3 440.4 395.7 442.6 401.8C444.7 407.9 445.8 414.7 449 421.2C452.3 427.6 458.4 434.5 461.9 440.6C465.5 446.7 469.1 453.1 470.6 457.8C472 462.4 467.7 466.5 470.6 468.5C473.4 470.6 482.8 470.4 487.8 470.1C492.8 469.7 498.5 467 500.7 466.4" fill="none" stroke="#e8276b" stroke-width="3.1" stroke-linecap="round"/>
<path d="M436.1 388.9C437.7 387.5 441.1 383.2 444.7 382.4C448.3 381.7 454.1 382.8 457.6 384.6C461.2 386.4 466.3 390.6 466.3 393.2C466.3 395.8 461.6 399.3 457.6 400.1C453.7 400.9 446.3 399.4 442.6 397.9C438.8 396.4 436.1 392.6 435 391C434 389.5 434.5 390.3 436.1 388.9Z" fill="none" stroke="#e8276b" stroke-width="3.1" stroke-linecap="round"/>
<path d="M473.1 363.1C473.3 366.6 473.9 381 474 384.6" fill="none" stroke="#e8276b" stroke-width="3.1" stroke-linecap="round"/>
<path d="M466.3 376C467 379.6 471.3 391.8 470.6 397.5C469.8 403.2 463.4 408.3 461.9 410.4" fill="none" stroke="#e8276b" stroke-width="3.1" stroke-linecap="round"/>
<path d="M403.8 384.6C402.2 386 396.6 389.6 394.1 393.2C391.6 396.8 389.6 404 388.8 406.1" fill="none" stroke="#e8276b" stroke-width="3.1" stroke-linecap="round"/>
<path d="M378 384.6C377.6 386.4 374.8 391 375.8 395.3C376.9 399.7 380.5 406.1 384.4 410.4C388.4 414.7 394.5 417.6 399.5 421.2C404.5 424.8 409.9 427.3 414.6 431.9C419.3 436.6 423.2 444.5 427.5 449.2C431.8 453.8 438.3 458.1 440.4 459.9" fill="none" stroke="#e8276b" stroke-width="3.1" stroke-linecap="round"/>
<path d="M412.4 369.5C412.4 371.3 411 379.2 412.4 380.3C413.9 381.4 418.5 374.2 421 376C423.6 377.8 427.5 386 427.5 391C427.5 396.1 423.6 404.3 421 406.1C418.5 407.9 413.9 402.5 412.4 401.8" fill="none" stroke="#e8276b" stroke-width="3.1" stroke-linecap="round"/>
<path d="M479.2 358.8C481.3 358.4 488.5 353.7 492.1 356.6C495.7 359.5 500 370.2 500.7 376C501.4 381.7 498.5 385.3 496.4 391C494.2 396.8 488.5 403.6 487.8 410.4C487.1 417.2 491.4 428.4 492.1 431.9" fill="none" stroke="#e8276b" stroke-width="3.1" stroke-linecap="round"/>
<path d="M424.3 425.5C424.5 427.3 425.9 433.7 425.3 436.3C424.8 438.8 421.8 439.8 421 440.6" fill="none" stroke="#e8276b" stroke-width="3.1" stroke-linecap="round"/>
<path d="M492.1 376C493.5 377.4 497.1 381.7 500.7 384.6C504.3 387.5 510.7 389.6 513.6 393.2C516.5 396.8 517.2 404 517.9 406.1" fill="none" stroke="#e8276b" stroke-width="3.1" stroke-linecap="round"/>
<path d="M451.2 354.4C453 355.2 459.4 355.9 461.9 358.8C464.5 361.6 466.3 366.6 466.3 371.7C466.3 376.7 464.5 384.6 461.9 388.9C459.4 393.2 453 396.1 451.2 397.5" fill="none" stroke="#e8276b" stroke-width="3.1" stroke-linecap="round"/>
<path d="M375.8 401.8C376.9 400.7 378.7 398.2 382.3 395.3C385.9 392.5 394 385.6 397.4 384.6C400.8 383.6 401.8 388.5 402.7 389.3" fill="none" stroke="#e8276b" stroke-width="3.1" stroke-linecap="round"/>
<path d="M393.1 421.2C394.9 423 399.2 429.1 403.8 431.9C408.5 434.8 414.9 437.7 421 438.4C427.1 439.1 435 438 440.4 436.3C445.8 434.5 450.5 431.2 453.3 427.6C456.2 424.1 456.9 416.9 457.6 414.7" fill="none" stroke="#e8276b" stroke-width="3.1" stroke-linecap="round"/>
<path d="M483.5 373.8C486 376.7 497.1 386.4 498.5 391C500 395.7 493.9 397.9 492.1 401.8C490.3 405.8 486.3 409.7 487.8 414.7C489.2 419.7 496 428.4 500.7 431.9C505.4 435.5 513.6 433.4 515.8 436.3C517.9 439.1 516.1 446.3 513.6 449.2C511.1 452 502.9 452.8 500.7 453.5" fill="none" stroke="#e8276b" stroke-width="3.1" stroke-linecap="round"/>
<path d="M431.8 365.2C434.3 367.1 441.1 375 446.9 376.4C452.6 377.8 460.9 375.3 466.3 373.8C471.6 372.4 477 368.8 479.2 367.8" fill="none" stroke="#e8276b" stroke-width="3.1" stroke-linecap="round"/>
<path d="M451.2 449.2C453 451 457.3 456.3 461.9 459.9C466.6 463.5 476.3 468.9 479.2 470.7" fill="none" stroke="#e8276b" stroke-width="3.1" stroke-linecap="round"/>
<path d="M371.5 440.6C375.1 440.6 386.6 439.1 393.1 440.6C399.5 442 405.3 446.3 410.3 449.2C415.3 452 421 456.3 423.2 457.8" fill="none" stroke="#e8276b" stroke-width="3.1" stroke-linecap="round"/>
<path d="M399.5 373.8C400.6 375.6 402.7 381.7 406 384.6C409.2 387.5 414.6 391 418.9 391C423.2 391 428.9 387.5 431.8 384.6C434.7 381.7 435.4 375.6 436.1 373.8" fill="none" stroke="#e8276b" stroke-width="3.1" stroke-linecap="round"/>
<path d="M470.6 414.7C472 416.9 477 423 479.2 427.6C481.3 432.3 483.5 437.7 483.5 442.7C483.5 447.7 479.9 455.3 479.2 457.8" fill="none" stroke="#e8276b" stroke-width="3.1" stroke-linecap="round"/>
<circle cx="723" cy="338.2" r="6.2" fill="url(#gLite)"/>
<circle cx="735.6" cy="341" r="6.2" fill="url(#gLite)"/>
<circle cx="744" cy="348" r="6.2" fill="url(#gLite)"/>
<circle cx="732.8" cy="350.8" r="6.2" fill="url(#gLite)"/>
<circle cx="812.5" cy="341" r="6.2" fill="url(#gLite)"/>
<circle cx="804.1" cy="348" r="6.2" fill="url(#gLite)"/>
<circle cx="816.7" cy="355" r="6.2" fill="url(#gLite)"/>
<circle cx="886.7" cy="332.6" r="6.2" fill="url(#gLite)"/>
<circle cx="875.5" cy="339.6" r="6.2" fill="url(#gLite)"/>
<circle cx="893.7" cy="346.6" r="6.2" fill="url(#gLite)"/>
<circle cx="881.1" cy="352.2" r="6.2" fill="url(#gLite)"/>
<circle cx="893.7" cy="355" r="6.2" fill="url(#gLite)"/>
<circle cx="897.9" cy="394.2" r="6.2" fill="url(#gLite)"/>
<circle cx="886.7" cy="392.8" r="6.2" fill="url(#gLite)"/>
<circle cx="900.7" cy="402.6" r="6.2" fill="url(#gLite)"/>
<circle cx="888.1" cy="406.8" r="6.2" fill="url(#gLite)"/>
<circle cx="882.5" cy="438.9" r="6.2" fill="url(#gLite)"/>
<circle cx="896.5" cy="448.7" r="6.2" fill="url(#gLite)"/>
<circle cx="883.9" cy="451.5" r="6.2" fill="url(#gLite)"/>
<circle cx="888.1" cy="459.9" r="6.2" fill="url(#gLite)"/>
<circle cx="713.2" cy="391.4" r="6.2" fill="url(#gLite)"/>
<circle cx="724.4" cy="390" r="6.2" fill="url(#gLite)"/>
<circle cx="718.8" cy="401.2" r="6.2" fill="url(#gLite)"/>
<circle cx="805.5" cy="445.9" r="6.2" fill="url(#gLite)"/>
<circle cx="820.9" cy="465.5" r="6.2" fill="url(#gLite)"/>
<circle cx="801.3" cy="397" r="6.2" fill="url(#gLite)"/>
<circle cx="813.9" cy="397" r="6.2" fill="url(#gLite)"/>
<circle cx="716" cy="443.1" r="6.2" fill="url(#gLite)"/>
<circle cx="727.2" cy="451.5" r="6.2" fill="url(#gLite)"/>
<circle cx="816.7" cy="451.5" r="6.2" fill="url(#gLite)"/>
<path d="M799.9 345.2C803.7 339.4 817.7 340.1 827.9 341C838.2 341.9 852.2 345 861.5 350.8C870.8 356.6 878.8 367.1 883.9 376C889 384.8 892.3 397 892.3 404C892.3 411 890 415.2 883.9 418C877.8 420.8 865.2 423.1 855.9 420.8C846.6 418.4 836.3 411.4 827.9 404C819.5 396.5 810.2 385.8 805.5 376C800.9 366.2 796.2 351 799.9 345.2Z" fill="none" stroke="#f6bcc6" stroke-width="3" stroke-linecap="round"/>
<path d="M766.4 376C771 369.9 785 367.6 794.3 367.6C803.7 367.6 815.8 369.9 822.3 376C828.9 382 832.6 393.7 833.5 404C834.5 414.2 832.6 430.6 827.9 437.5C823.3 444.5 813.5 446.9 805.5 445.9C797.6 445 786.9 438.9 780.3 432C773.8 425 768.7 413.3 766.4 404C764 394.6 761.7 382 766.4 376Z" fill="none" stroke="#f6bcc6" stroke-width="3" stroke-linecap="round"/>
<path d="M710.4 390C716.9 385.8 733.7 382 744 384.4C754.2 386.7 768.2 396 772 404C775.7 411.9 772 425.4 766.4 432C760.8 438.5 746.8 443.1 738.4 443.1C730 443.1 721.6 437.5 716 432C710.4 426.4 705.7 416.6 704.8 409.6C703.8 402.6 703.8 394.2 710.4 390Z" fill="none" stroke="#f6bcc6" stroke-width="3" stroke-linecap="round"/>
<path d="M799.9 448.7C805.1 448.3 814.9 459 816.7 462.7C818.6 466.5 816.3 470.7 811.1 471.1C806 471.6 787.8 469.3 785.9 465.5C784.1 461.8 794.8 449.2 799.9 448.7Z" fill="none" stroke="#f6bcc6" stroke-width="3" stroke-linecap="round"/>
<circle cx="703.4" cy="356.4" r="6.1" fill="url(#gGrey)"/>
<circle cx="714.6" cy="355" r="6.1" fill="url(#gGrey)"/>
<circle cx="723" cy="362" r="6.1" fill="url(#gGrey)"/>
<circle cx="710.4" cy="364.8" r="6.1" fill="url(#gGrey)"/>
<circle cx="706.2" cy="373.2" r="6.1" fill="url(#gGrey)"/>
<circle cx="720.2" cy="374.6" r="6.1" fill="url(#gGrey)"/>
<circle cx="696.4" cy="376" r="6.1" fill="url(#gGrey)"/>
<circle cx="778.9" cy="357.8" r="6.1" fill="url(#gGrey)"/>
<circle cx="792.9" cy="352.2" r="6.1" fill="url(#gGrey)"/>
<circle cx="783.1" cy="367.6" r="6.1" fill="url(#gGrey)"/>
<circle cx="792.9" cy="371.8" r="6.1" fill="url(#gGrey)"/>
<circle cx="787.3" cy="360.6" r="6.1" fill="url(#gGrey)"/>
<circle cx="851.7" cy="350.8" r="6.1" fill="url(#gGrey)"/>
<circle cx="864.3" cy="343.8" r="6.1" fill="url(#gGrey)"/>
<circle cx="871.3" cy="356.4" r="6.1" fill="url(#gGrey)"/>
<circle cx="851.7" cy="362" r="6.1" fill="url(#gGrey)"/>
<circle cx="869.9" cy="366.2" r="6.1" fill="url(#gGrey)"/>
<circle cx="860.1" cy="362" r="6.1" fill="url(#gGrey)"/>
<circle cx="693.6" cy="405.4" r="6.1" fill="url(#gGrey)"/>
<circle cx="707.6" cy="412.4" r="6.1" fill="url(#gGrey)"/>
<circle cx="695" cy="415.2" r="6.1" fill="url(#gGrey)"/>
<circle cx="686.6" cy="419.4" r="6.1" fill="url(#gGrey)"/>
<circle cx="707.6" cy="422.2" r="6.1" fill="url(#gGrey)"/>
<circle cx="780.3" cy="404" r="6.1" fill="url(#gGrey)"/>
<circle cx="791.5" cy="408.2" r="6.1" fill="url(#gGrey)"/>
<circle cx="787.3" cy="415.2" r="6.1" fill="url(#gGrey)"/>
<circle cx="776.1" cy="419.4" r="6.1" fill="url(#gGrey)"/>
<circle cx="791.5" cy="420.8" r="6.1" fill="url(#gGrey)"/>
<circle cx="864.3" cy="404" r="6.1" fill="url(#gGrey)"/>
<circle cx="875.5" cy="402.6" r="6.1" fill="url(#gGrey)"/>
<circle cx="854.5" cy="411" r="6.1" fill="url(#gGrey)"/>
<circle cx="876.9" cy="411" r="6.1" fill="url(#gGrey)"/>
<circle cx="860.1" cy="418" r="6.1" fill="url(#gGrey)"/>
<circle cx="871.3" cy="418" r="6.1" fill="url(#gGrey)"/>
<circle cx="696.4" cy="450.1" r="6.1" fill="url(#gGrey)"/>
<circle cx="706.2" cy="452.9" r="6.1" fill="url(#gGrey)"/>
<circle cx="685.2" cy="458.5" r="6.1" fill="url(#gGrey)"/>
<circle cx="714.6" cy="462.7" r="6.1" fill="url(#gGrey)"/>
<circle cx="693.6" cy="466.9" r="6.1" fill="url(#gGrey)"/>
<circle cx="700.6" cy="471.1" r="6.1" fill="url(#gGrey)"/>
<circle cx="720.2" cy="466.9" r="6.1" fill="url(#gGrey)"/>
<circle cx="785.9" cy="457.1" r="6.1" fill="url(#gGrey)"/>
<circle cx="795.7" cy="464.1" r="6.1" fill="url(#gGrey)"/>
<circle cx="776.1" cy="466.9" r="6.1" fill="url(#gGrey)"/>
<circle cx="785.9" cy="471.1" r="6.1" fill="url(#gGrey)"/>
<circle cx="783.1" cy="479.5" r="6.1" fill="url(#gGrey)"/>
<circle cx="797.1" cy="478.1" r="6.1" fill="url(#gGrey)"/>
<circle cx="858.7" cy="447.3" r="6.1" fill="url(#gGrey)"/>
<circle cx="853.1" cy="457.1" r="6.1" fill="url(#gGrey)"/>
<circle cx="861.5" cy="459.9" r="6.1" fill="url(#gGrey)"/>
<circle cx="874.1" cy="459.9" r="6.1" fill="url(#gGrey)"/>
<circle cx="865.7" cy="471.1" r="6.1" fill="url(#gGrey)"/>
<path d="M690.8 350.8C691.7 349.2 691.3 342.8 696.4 341C701.5 339.2 714.1 339.7 721.6 340.2C729 340.6 737.4 341.6 741.2 343.8C744.9 346 745.4 351 744 353.6C742.6 356.2 732.8 356.9 732.8 359.2C732.8 361.5 742.1 366.2 744 367.6" fill="none" stroke="#e8276b" stroke-width="3.1" stroke-linecap="round"/>
<path d="M744 355C748.6 354.5 761.7 352.4 772 352.2C782.2 352 795.3 353.8 805.5 353.6C815.8 353.4 825.1 350.3 833.5 350.8C841.9 351.3 847.5 354.5 855.9 356.4C864.3 358.2 880.2 359.2 883.9 362C887.6 364.8 883 370.8 878.3 373.2C873.6 375.5 866.2 375.7 855.9 376C845.7 376.2 829.8 374.6 816.7 374.6C803.7 374.6 784.1 375.7 777.5 376" fill="none" stroke="#e8276b" stroke-width="3.1" stroke-linecap="round"/>
<path d="M819.5 350.8C820.5 349.4 820.9 344.3 825.1 342.4C829.3 340.5 836.8 339.6 844.7 339.6C852.6 339.6 868 341.9 872.7 342.4" fill="none" stroke="#e8276b" stroke-width="3.1" stroke-linecap="round"/>
<path d="M672.6 387.2C673.3 385.3 673.8 379.2 676.8 376C679.8 372.7 684.3 369.2 690.8 367.6C697.3 365.9 707.1 365.2 716 366.2C724.8 367.1 734.6 370.8 744 373.2C753.3 375.5 761.7 378.1 772 380.2C782.2 382.3 794.3 385.3 805.5 385.8C816.7 386.2 828.9 384.6 839.1 383C849.4 381.3 860.6 378.1 867.1 376C873.6 373.9 876.4 371.3 878.3 370.4" fill="none" stroke="#e8276b" stroke-width="3.1" stroke-linecap="round"/>
<path d="M672.6 387.2C672.8 389.5 672.4 397 674 401.2C675.6 405.4 681.5 407.7 682.4 412.4C683.3 417 679.1 424.5 679.6 429.2C680.1 433.8 679.1 438.5 685.2 440.3C691.3 442.2 705.2 441.7 716 440.3C726.7 438.9 738.4 434.7 749.6 432C760.8 429.2 772 425.9 783.1 423.6C794.3 421.2 806.9 419.8 816.7 418C826.5 416.1 837.7 413.3 841.9 412.4" fill="none" stroke="#e8276b" stroke-width="3.1" stroke-linecap="round"/>
<path d="M664.2 443.1C668.2 444.5 678.4 449.2 688 451.5C697.6 453.9 710.4 456 721.6 457.1C732.8 458.3 745.4 459.5 755.2 458.5C765 457.6 772 454.6 780.3 451.5C788.7 448.5 796.7 443.1 805.5 440.3C814.4 437.5 825.1 435.9 833.5 434.7C841.9 433.6 852.2 433.6 855.9 433.4" fill="none" stroke="#e8276b" stroke-width="3.1" stroke-linecap="round"/>
<path d="M699.2 384.4C704.3 385.8 718.8 391.6 730 392.8C741.2 393.9 754.7 392.3 766.4 391.4C778 390.4 789.7 387.4 799.9 387.2C810.2 386.9 819.1 388.6 827.9 390C836.8 391.4 848.5 396 853.1 395.6C857.8 395.1 855.4 388.6 855.9 387.2" fill="none" stroke="#e8276b" stroke-width="3.1" stroke-linecap="round"/>
<path d="M707.6 398.4C711.8 400.7 724.8 409.6 732.8 412.4C740.7 415.2 747.2 412.4 755.2 415.2C763.1 418 772 427.3 780.3 429.2C788.7 431 797.1 427.3 805.5 426.4C813.9 425.4 823.3 422.6 830.7 423.6C838.2 424.5 846.1 429.2 850.3 432C854.5 434.7 855 438.9 855.9 440.3" fill="none" stroke="#e8276b" stroke-width="3.1" stroke-linecap="round"/>
<path d="M730 364.8C730.9 368 735.1 377.8 735.6 384.4C736 390.9 731.8 397.4 732.8 404C733.7 410.5 738.4 417 741.2 423.6C744 430.1 746.3 437.1 749.6 443.1C752.8 449.2 758.9 457.1 760.8 459.9" fill="none" stroke="#e8276b" stroke-width="3.1" stroke-linecap="round"/>
<path d="M758 384.4C758.9 387.6 760.3 397 763.6 404C766.8 411 776.6 419.4 777.5 426.4C778.5 433.4 771 439.4 769.2 445.9C767.3 452.5 766.8 462.3 766.4 465.5" fill="none" stroke="#e8276b" stroke-width="3.1" stroke-linecap="round"/>
<path d="M805.5 356.4C807.4 359.6 813 369.4 816.7 376C820.5 382.5 823.7 389 827.9 395.6C832.1 402.1 839.1 408.2 841.9 415.2C844.7 422.2 842.9 432.4 844.7 437.5C846.6 442.7 851.7 444.5 853.1 445.9" fill="none" stroke="#e8276b" stroke-width="3.1" stroke-linecap="round"/>
<path d="M869.9 378.8C871.8 381.1 877.4 389 881.1 392.8C884.8 396.5 889.5 397.9 892.3 401.2C895.1 404.4 899.3 407.2 897.9 412.4C896.5 417.5 888.1 427.3 883.9 432C879.7 436.6 874.6 438.9 872.7 440.3" fill="none" stroke="#e8276b" stroke-width="3.1" stroke-linecap="round"/>
<path d="M872.7 440.3C873.6 442.2 877.4 447.3 878.3 451.5C879.2 455.7 881.1 462 878.3 465.5C875.5 469 869 471.2 861.5 472.5C854 473.8 841.9 473.4 833.5 473.4C825.1 473.4 814.9 472.7 811.1 472.5" fill="none" stroke="#e8276b" stroke-width="3.1" stroke-linecap="round"/>
<path d="M707.6 472.5C711.8 472.7 724.8 474.5 732.8 473.4C740.7 472.2 747.7 467.8 755.2 465.5C762.6 463.3 770.1 461.3 777.5 459.9C785 458.5 796.2 457.6 799.9 457.1" fill="none" stroke="#e8276b" stroke-width="3.1" stroke-linecap="round"/>
<path d="M727.2 459.9C730 460.9 737.4 466.5 744 465.5C750.5 464.6 758.9 459 766.4 454.3C773.8 449.7 780.3 441.7 788.7 437.5C797.1 433.4 807.9 431.5 816.7 429.2C825.6 426.8 837.7 424.5 841.9 423.6" fill="none" stroke="#e8276b" stroke-width="3.1" stroke-linecap="round"/>
<path d="M833.5 364.8C834.5 368 840.1 377.8 839.1 384.4C838.2 390.9 831.7 398.4 827.9 404C824.2 409.6 822.3 413.3 816.7 418C811.1 422.6 800.9 427.8 794.3 432C787.8 436.1 780.3 441.3 777.5 443.1" fill="none" stroke="#e8276b" stroke-width="3.1" stroke-linecap="round"/>
<path d="M690.8 350.8C691.3 353.6 694.1 362 693.6 367.6C693.1 373.2 686.6 378.8 688 384.4C689.4 390 699.6 398.4 702 401.2" fill="none" stroke="#e8276b" stroke-width="3.1" stroke-linecap="round"/>
<path d="M839.1 401.2C841.9 400.7 852.2 400.7 855.9 398.4C859.6 396 862.4 390.2 861.5 387.2C860.6 384.1 852.2 381.3 850.3 380.2" fill="none" stroke="#e8276b" stroke-width="3.1" stroke-linecap="round"/>
<path d="M716 437.5C718.8 435.7 726.2 432 732.8 426.4C739.3 420.8 747.7 410 755.2 404C762.6 397.9 769.2 391.6 777.5 390C785.9 388.3 799 391.8 805.5 394.2C812.1 396.5 814.9 402.3 816.7 404" fill="none" stroke="#e8276b" stroke-width="3.1" stroke-linecap="round"/>
<path d="M679.6 429.2C679.1 430.6 673.1 435.4 676.8 437.5C680.5 439.7 690.8 442.2 702 442.3C713.2 442.4 730 439.7 744 438.1C758 436.5 772 433.8 785.9 432.5C799.9 431.3 816.3 430.6 827.9 430.6C839.6 430.6 847.5 430.4 855.9 432.5C864.3 434.6 874.1 438.6 878.3 443.1C882.5 447.7 881.8 455.3 881.1 459.9C880.4 464.6 880.6 468.8 874.1 471.1C867.6 473.5 852.4 473.7 841.9 473.9C831.4 474.2 816.3 472.8 811.1 472.5" fill="none" stroke="#e8276b" stroke-width="3.1" stroke-linecap="round"/>
<path d="M676.8 412.4C681 414.7 691.7 423.1 702 426.4C712.2 429.6 726.7 432 738.4 432C750 432 760.8 429.6 772 426.4C783.1 423.1 794.3 416.1 805.5 412.4C816.7 408.6 830.7 404.9 839.1 404C847.5 403 853.1 406.3 855.9 406.8" fill="none" stroke="#e8276b" stroke-width="3.1" stroke-linecap="round"/>
<path d="M696.4 377.4C699.6 379 707.1 385.1 716 387.2C724.8 389.3 738.4 387.2 749.6 390C760.8 392.8 772.9 400.2 783.1 404C793.4 407.7 801.8 407.7 811.1 412.4C820.5 417 834.5 428.7 839.1 432" fill="none" stroke="#e8276b" stroke-width="3.1" stroke-linecap="round"/>
<path d="M744 376C746.8 378.8 756.1 386.7 760.8 392.8C765.4 398.8 771 405.8 772 412.4C772.9 418.9 769.6 425.4 766.4 432C763.1 438.5 758 445.9 752.4 451.5C746.8 457.1 736 463.2 732.8 465.5" fill="none" stroke="#e8276b" stroke-width="3.1" stroke-linecap="round"/>
<path d="M794.3 376C796.2 378.8 804.6 386.7 805.5 392.8C806.5 398.8 803.7 405.8 799.9 412.4C796.2 418.9 787.8 425.4 783.1 432C778.5 438.5 773.8 448.3 772 451.5" fill="none" stroke="#e8276b" stroke-width="3.1" stroke-linecap="round"/>
<path d="M816.7 392.8C819.5 396 827 406.8 833.5 412.4C840.1 418 848.9 423.6 855.9 426.4C862.9 429.2 869.4 431 875.5 429.2C881.6 427.3 890 419.8 892.3 415.2C894.6 410.5 890 403.5 889.5 401.2" fill="none" stroke="#e8276b" stroke-width="3.1" stroke-linecap="round"/>
<path d="M688 392.8C690.8 394.6 697.8 401.6 704.8 404C711.8 406.3 723.4 407.7 730 406.8C736.5 405.8 742.6 402.6 744 398.4C745.4 394.2 739.3 384.4 738.4 381.6" fill="none" stroke="#e8276b" stroke-width="3.1" stroke-linecap="round"/>
<path d="M839.1 356.4C837.3 358.2 827.9 363.8 827.9 367.6C827.9 371.3 833.5 377.8 839.1 378.8C844.7 379.7 857.8 374.1 861.5 373.2" fill="none" stroke="#e8276b" stroke-width="3.1" stroke-linecap="round"/>
<path d="M702 443.1C705.7 444.1 716 448.3 724.4 448.7C732.8 449.2 743.5 447.3 752.4 445.9C761.2 444.5 769.6 440.8 777.5 440.3C785.5 439.9 793.4 440.8 799.9 443.1C806.5 445.5 811.1 450.6 816.7 454.3C822.3 458.1 830.7 463.7 833.5 465.5" fill="none" stroke="#e8276b" stroke-width="3.1" stroke-linecap="round"/>
<path d="M549.4 394.6H642M626.1 386.6L643 394.6L626.1 402.7" fill="none" stroke="#111" stroke-width="2.4" stroke-linejoin="miter"/>
<path d="M552 415.6H643M567.1 408.3L551 415.6L567.1 423.7" fill="none" stroke="#111" stroke-width="2.4" stroke-linejoin="miter"/>
<text x="563" y="359.5" font-size="20.5" textLength="52" lengthAdjust="spacingAndGlyphs" >stress</text>
<text x="563" y="384.1" font-size="20.5" textLength="63.3" lengthAdjust="spacingAndGlyphs" >loaded</text>
<text x="554.1" y="445.5" font-size="20.5" textLength="86.7" lengthAdjust="spacingAndGlyphs" >unloaded</text>
<text x="27.2" y="490.8" font-size="18" textLength="283" lengthAdjust="spacingAndGlyphs" font-style="italic">Faster PDMAAm network formation</text>
<text x="27.2" y="511.5" font-size="18" textLength="302.6" lengthAdjust="spacingAndGlyphs"><tspan font-weight="bold" font-style="italic">prevents</tspan> free diffusion of silica nano-</text>
<text x="27.2" y="532.9" font-size="18" textLength="302.7" lengthAdjust="spacingAndGlyphs" >particles and silica network formation</text>
<text x="353.6" y="498.2" font-size="18" textLength="245.1" lengthAdjust="spacingAndGlyphs" >PDMAAm network crosslinked</text>
<text x="353.6" y="520" font-size="18" textLength="216.5" lengthAdjust="spacingAndGlyphs" >by clusters of silica particle</text>
<text x="353.6" y="541.3" font-size="18" textLength="66.6" lengthAdjust="spacingAndGlyphs" >network</text>
<text x="705.7" y="511" font-size="19.6" textLength="159.2" lengthAdjust="spacingAndGlyphs" >No silica network</text>
<text x="705.7" y="535.5" font-size="19.6" textLength="103.7" lengthAdjust="spacingAndGlyphs" >destruction</text>
<rect x="30.3" y="544.6" width="876.7" height="44.7" fill="#fff" stroke="#111" stroke-width="1.3"/>
<circle cx="50.2" cy="567.2" r="6.8" fill="url(#gGrey)"/>
<text x="65.7" y="574.8" font-size="17.6" textLength="147.3" lengthAdjust="spacingAndGlyphs" >Silica nanoparticle</text>
<circle cx="244.4" cy="567.6" r="6.2" fill="#e8276b"/>
<text x="260.5" y="574.8" font-size="17.6" textLength="153.5" lengthAdjust="spacingAndGlyphs" >DMAAm monomer</text>
<circle cx="476.2" cy="556.6" r="6" fill="url(#gGrey)"/>
<circle cx="463.5" cy="562.6" r="6" fill="url(#gGrey)"/>
<circle cx="482.2" cy="569.5" r="6" fill="url(#gGrey)"/>
<circle cx="462.6" cy="575.6" r="6" fill="url(#gGrey)"/>
<circle cx="470.1" cy="575.6" r="6" fill="url(#gGrey)"/>
<circle cx="481.6" cy="579.2" r="6" fill="url(#gGrey)"/>
<circle cx="472" cy="566" r="6" fill="url(#gGrey)"/>
<text x="495.8" y="574" font-size="17.6" textLength="194.7" lengthAdjust="spacingAndGlyphs" >Secondary silica particle</text>
<path d="M712.4 574.3C712.6 573.2 712.8 569.4 713.6 568C714.5 566.6 716.1 565.5 717.5 565.8C718.9 566 720.5 568.3 722 569.5C723.5 570.7 725.1 573 726.5 572.8C727.9 572.5 729.1 570.1 730.5 568C731.9 565.9 733.5 561.1 734.8 560C736.1 558.9 737.3 560 738.5 561.5C739.7 563 740.8 567.7 742 569C743.2 570.3 744.2 570.5 745.5 569.5C746.8 568.5 748.5 564.6 750 563C751.5 561.4 753.8 560.2 754.6 559.6" fill="none" stroke="#e8276b" stroke-width="3.1" stroke-linecap="round" stroke-linejoin="round"/>
<text x="763.1" y="574.3" font-size="17.6" textLength="127.1" lengthAdjust="spacingAndGlyphs" >PDMAAm chain</text>
</g>
<!-- pD -->
<g font-family="Liberation Sans, sans-serif" fill="#111">
<text x="16.6" y="653" font-size="24.5" font-weight="bold" fill="#000">D</text>
<text x="91.6" y="642" font-size="12.4" stroke="#111" stroke-width="0.25" textLength="13" lengthAdjust="spacingAndGlyphs">IG</text>
<text x="232.7" y="642.4" font-size="12.4" stroke="#111" stroke-width="0.25" textLength="35" lengthAdjust="spacingAndGlyphs">IG-[M]</text>
<path d="M53.8 649.7L141.7 649.7L160.6 673.8L33.2 673.8Z" fill="#edf8f7"/>
<path d="M33.2 673.8L160.6 673.8L154.6 724.6L40.1 724.6Z" fill="#e6f5f3"/>
<path d="M36.6 699.6L157.6 699.6L154.6 724.6L40.1 724.6Z" fill="#99c2bd"/>
<path d="M33.2 673.8L53.8 649.7L56.5 650.5L37.5 675L43.5 724.6L40.1 724.6Z" fill="#c9eae7" opacity="0.85"/>
<path d="M160.6 673.8L141.7 649.7L139 650.5L156.3 675L151.2 724.6L154.6 724.6Z" fill="#c9eae7" opacity="0.85"/>
<path d="M53.8 649.7L60.5 649.7L51 660.5Z" fill="#58b4c0" opacity="0.9"/>
<path d="M141.7 649.7L135 649.7L144.5 660.5Z" fill="#58b4c0" opacity="0.9"/>
<path d="M33.2 673.8L160.6 673.8" fill="none" stroke="#63cdd2" stroke-width="0.8"/>
<path d="M53.8 649.7L141.7 649.7L160.6 673.8L33.2 673.8Z" fill="none" stroke="#a9dedd" stroke-width="0.7"/>
<path d="M33.2 673.8L40.1 724.6L154.6 724.6L160.6 673.8" fill="none" stroke="#a9dedd" stroke-width="0.7"/>
<path d="M68.7 652.8C69.9 653.7 72.2 657.1 76.2 658.1C80.2 659.1 87.3 659.2 92.8 658.8C98.3 658.5 104.9 656.8 109.4 655.8C113.9 654.8 119.4 653.7 119.9 652.8C120.4 651.9 116.7 650.6 112.4 650.2C108.1 649.9 99.8 650.2 94.3 650.8C88.8 651.5 83.1 653 79.2 654.3C75.3 655.6 72.3 658.1 70.9 658.8" fill="none" stroke="#7fa83a" stroke-width="1.9" stroke-linecap="round" opacity="0.95"/>
<path d="M68.7 652.8C69.9 653.7 72.2 657.1 76.2 658.1C80.2 659.1 87.3 659.2 92.8 658.8C98.3 658.5 104.9 656.8 109.4 655.8C113.9 654.8 119.4 653.7 119.9 652.8C120.4 651.9 116.7 650.6 112.4 650.2C108.1 649.9 99.8 650.2 94.3 650.8C88.8 651.5 83.1 653 79.2 654.3C75.3 655.6 72.3 658.1 70.9 658.8" fill="none" stroke="#bddb63" stroke-width="0.9" stroke-linecap="round"/>
<path d="M109.4 659.6C110.9 659.7 116.4 660.8 118.4 660.3C120.5 659.8 121.7 657.7 121.7 656.6C121.7 655.4 119 654.1 118.4 653.6" fill="none" stroke="#7fa83a" stroke-width="1.9" stroke-linecap="round" opacity="0.95"/>
<path d="M109.4 659.6C110.9 659.7 116.4 660.8 118.4 660.3C120.5 659.8 121.7 657.7 121.7 656.6C121.7 655.4 119 654.1 118.4 653.6" fill="none" stroke="#bddb63" stroke-width="0.9" stroke-linecap="round"/>
<path d="M43.1 673.5C44.3 672.3 46.8 668.2 50.6 666.4C54.4 664.6 59.4 662.9 65.7 662.6C72 662.4 80.7 664.1 88.3 664.9C95.8 665.6 103.3 667 110.9 667.1C118.4 667.3 127.7 666.4 133.5 665.6C139.3 664.9 143.5 663.1 145.5 662.6" fill="none" stroke="#7fa83a" stroke-width="1.9" stroke-linecap="round" opacity="0.95"/>
<path d="M43.1 673.5C44.3 672.3 46.8 668.2 50.6 666.4C54.4 664.6 59.4 662.9 65.7 662.6C72 662.4 80.7 664.1 88.3 664.9C95.8 665.6 103.3 667 110.9 667.1C118.4 667.3 127.7 666.4 133.5 665.6C139.3 664.9 143.5 663.1 145.5 662.6" fill="none" stroke="#bddb63" stroke-width="0.9" stroke-linecap="round"/>
<path d="M52.1 670.1C54.4 669.4 60.9 666.6 65.7 665.6C70.4 664.6 74.5 663.6 80.7 664.1C87 664.6 96.6 667.4 103.3 668.6C110.1 669.9 116.4 671.4 121.4 671.6C126.5 671.9 131.5 670.4 133.5 670.1" fill="none" stroke="#7fa83a" stroke-width="1.9" stroke-linecap="round" opacity="0.95"/>
<path d="M52.1 670.1C54.4 669.4 60.9 666.6 65.7 665.6C70.4 664.6 74.5 663.6 80.7 664.1C87 664.6 96.6 667.4 103.3 668.6C110.1 669.9 116.4 671.4 121.4 671.6C126.5 671.9 131.5 670.4 133.5 670.1" fill="none" stroke="#bddb63" stroke-width="0.9" stroke-linecap="round"/>
<path d="M42.3 685.2C42.7 686.5 42.9 690.5 44.6 692.7C46.2 695 48.6 697.5 52.1 698.8C55.6 700 60.9 700.2 65.7 700.3C70.4 700.4 75.7 699.5 80.7 699.5C85.8 699.5 90.8 699.1 95.8 700.3C100.8 701.4 105.9 704.5 110.9 706.3C115.9 708.1 121.7 710.3 126 710.8C130.2 711.3 134.7 709.6 136.5 709.3" fill="none" stroke="#7fa83a" stroke-width="1.9" stroke-linecap="round" opacity="0.95"/>
<path d="M42.3 685.2C42.7 686.5 42.9 690.5 44.6 692.7C46.2 695 48.6 697.5 52.1 698.8C55.6 700 60.9 700.2 65.7 700.3C70.4 700.4 75.7 699.5 80.7 699.5C85.8 699.5 90.8 699.1 95.8 700.3C100.8 701.4 105.9 704.5 110.9 706.3C115.9 708.1 121.7 710.3 126 710.8C130.2 711.3 134.7 709.6 136.5 709.3" fill="none" stroke="#bddb63" stroke-width="0.9" stroke-linecap="round"/>
<path d="M50.6 677.7C51.6 678.1 56.4 679.4 56.6 680.4C56.9 681.4 52.9 683.1 52.1 683.7" fill="none" stroke="#7fa83a" stroke-width="1.9" stroke-linecap="round" opacity="0.95"/>
<path d="M50.6 677.7C51.6 678.1 56.4 679.4 56.6 680.4C56.9 681.4 52.9 683.1 52.1 683.7" fill="none" stroke="#bddb63" stroke-width="0.9" stroke-linecap="round"/>
<path d="M77.7 683.7C78.2 684.7 80 687.8 80.7 689.7C81.5 691.6 82 694.1 82.2 695" fill="none" stroke="#7fa83a" stroke-width="1.9" stroke-linecap="round" opacity="0.95"/>
<path d="M77.7 683.7C78.2 684.7 80 687.8 80.7 689.7C81.5 691.6 82 694.1 82.2 695" fill="none" stroke="#bddb63" stroke-width="0.9" stroke-linecap="round"/>
<path d="M65.7 691.2C65.2 692 62.2 694.2 62.7 695.8C63.2 697.3 67.6 697.8 68.7 700.3C69.7 702.8 69.5 707.8 69 710.8C68.5 713.8 67.5 716.6 65.7 718.4C63.9 720.1 60.7 721.6 58.1 721.4C55.6 721.1 52.9 719.1 50.6 716.9C48.3 714.6 45.6 709.3 44.6 707.8" fill="none" stroke="#7fa83a" stroke-width="1.9" stroke-linecap="round" opacity="0.95"/>
<path d="M65.7 691.2C65.2 692 62.2 694.2 62.7 695.8C63.2 697.3 67.6 697.8 68.7 700.3C69.7 702.8 69.5 707.8 69 710.8C68.5 713.8 67.5 716.6 65.7 718.4C63.9 720.1 60.7 721.6 58.1 721.4C55.6 721.1 52.9 719.1 50.6 716.9C48.3 714.6 45.6 709.3 44.6 707.8" fill="none" stroke="#bddb63" stroke-width="0.9" stroke-linecap="round"/>
<path d="M124.4 674.7C123.4 676.2 121.4 680.9 118.4 683.7C115.4 686.5 109.9 688.5 106.4 691.2C102.8 694 99.3 697.3 97.3 700.3C95.3 703.3 94.1 706.6 94.3 709.3C94.6 712.1 96.3 715.5 98.8 716.9C101.3 718.2 107.1 718.7 109.4 717.2C111.7 715.6 112.7 711.1 112.7 707.8C112.7 704.5 109.9 699 109.4 697.3" fill="none" stroke="#7fa83a" stroke-width="1.9" stroke-linecap="round" opacity="0.95"/>
<path d="M124.4 674.7C123.4 676.2 121.4 680.9 118.4 683.7C115.4 686.5 109.9 688.5 106.4 691.2C102.8 694 99.3 697.3 97.3 700.3C95.3 703.3 94.1 706.6 94.3 709.3C94.6 712.1 96.3 715.5 98.8 716.9C101.3 718.2 107.1 718.7 109.4 717.2C111.7 715.6 112.7 711.1 112.7 707.8C112.7 704.5 109.9 699 109.4 697.3" fill="none" stroke="#bddb63" stroke-width="0.9" stroke-linecap="round"/>
<path d="M85.3 706.3C86.5 707.3 89.8 710.6 92.8 712.3C95.8 714.1 100.1 716.4 103.3 716.9C106.6 717.4 110.9 715.6 112.4 715.3" fill="none" stroke="#7fa83a" stroke-width="1.9" stroke-linecap="round" opacity="0.95"/>
<path d="M85.3 706.3C86.5 707.3 89.8 710.6 92.8 712.3C95.8 714.1 100.1 716.4 103.3 716.9C106.6 717.4 110.9 715.6 112.4 715.3" fill="none" stroke="#bddb63" stroke-width="0.9" stroke-linecap="round"/>
<path d="M64.2 714.6C65.7 715.2 69.2 717.7 73.2 718.4C77.2 719 84.8 719.2 88.3 718.7C91.8 718.2 93.3 715.9 94.3 715.3" fill="none" stroke="#7fa83a" stroke-width="1.9" stroke-linecap="round" opacity="0.95"/>
<path d="M64.2 714.6C65.7 715.2 69.2 717.7 73.2 718.4C77.2 719 84.8 719.2 88.3 718.7C91.8 718.2 93.3 715.9 94.3 715.3" fill="none" stroke="#bddb63" stroke-width="0.9" stroke-linecap="round"/>
<path d="M132 655.1C132.3 657.6 133.8 665.1 133.8 670.1C133.8 675.2 132 680.2 132 685.2C132 690.2 133.8 695.3 133.8 700.3C133.8 705.3 132.3 712.8 132 715.3" fill="none" stroke="#7fa83a" stroke-width="1.9" stroke-linecap="round" opacity="0.95"/>
<path d="M132 655.1C132.3 657.6 133.8 665.1 133.8 670.1C133.8 675.2 132 680.2 132 685.2C132 690.2 133.8 695.3 133.8 700.3C133.8 705.3 132.3 712.8 132 715.3" fill="none" stroke="#bddb63" stroke-width="0.9" stroke-linecap="round"/>
<path d="M139.5 662.6C139.8 665.1 141.4 672.7 141.3 677.7C141.2 682.7 138.9 687.7 138.8 692.7C138.6 697.8 140.8 703 140.4 707.8C140 712.6 137.2 719.1 136.5 721.4" fill="none" stroke="#7fa83a" stroke-width="1.9" stroke-linecap="round" opacity="0.95"/>
<path d="M139.5 662.6C139.8 665.1 141.4 672.7 141.3 677.7C141.2 682.7 138.9 687.7 138.8 692.7C138.6 697.8 140.8 703 140.4 707.8C140 712.6 137.2 719.1 136.5 721.4" fill="none" stroke="#bddb63" stroke-width="0.9" stroke-linecap="round"/>
<path d="M148.6 676.2C149.3 677.7 152.6 681.2 153.1 685.2C153.6 689.2 151.5 695.3 151.6 700.3C151.6 705.3 153.1 712.8 153.4 715.3" fill="none" stroke="#7fa83a" stroke-width="1.9" stroke-linecap="round" opacity="0.95"/>
<path d="M148.6 676.2C149.3 677.7 152.6 681.2 153.1 685.2C153.6 689.2 151.5 695.3 151.6 700.3C151.6 705.3 153.1 712.8 153.4 715.3" fill="none" stroke="#bddb63" stroke-width="0.9" stroke-linecap="round"/>
<path d="M156.1 677.7C156.4 680.2 158 687.7 157.9 692.7C157.8 697.8 155.6 703 155.3 707.8C155.1 712.6 156.2 719.1 156.4 721.4" fill="none" stroke="#7fa83a" stroke-width="1.9" stroke-linecap="round" opacity="0.95"/>
<path d="M156.1 677.7C156.4 680.2 158 687.7 157.9 692.7C157.8 697.8 155.6 703 155.3 707.8C155.1 712.6 156.2 719.1 156.4 721.4" fill="none" stroke="#bddb63" stroke-width="0.9" stroke-linecap="round"/>
<path d="M118.4 715.3C119.7 715.1 123.4 714.3 126 713.8C128.5 713.3 131.2 713.6 133.5 712.3C135.7 711.1 138.5 707.3 139.5 706.3" fill="none" stroke="#7fa83a" stroke-width="1.9" stroke-linecap="round" opacity="0.95"/>
<path d="M118.4 715.3C119.7 715.1 123.4 714.3 126 713.8C128.5 713.3 131.2 713.6 133.5 712.3C135.7 711.1 138.5 707.3 139.5 706.3" fill="none" stroke="#bddb63" stroke-width="0.9" stroke-linecap="round"/>
<path d="M124.4 676.2C126 676.7 130.5 677.7 133.5 679.2C136.5 680.7 140 683.7 142.5 685.2C145 686.8 147.5 688 148.6 688.5" fill="none" stroke="#7fa83a" stroke-width="1.9" stroke-linecap="round" opacity="0.95"/>
<path d="M124.4 676.2C126 676.7 130.5 677.7 133.5 679.2C136.5 680.7 140 683.7 142.5 685.2C145 686.8 147.5 688 148.6 688.5" fill="none" stroke="#bddb63" stroke-width="0.9" stroke-linecap="round"/>
<path d="M80.7 674.7C83.3 675.2 90.5 676.9 95.8 677.7C101.1 678.4 107.6 679.6 112.4 679.2C117.2 678.8 122.4 676 124.4 675.4" fill="none" stroke="#7fa83a" stroke-width="1.9" stroke-linecap="round" opacity="0.95"/>
<path d="M80.7 674.7C83.3 675.2 90.5 676.9 95.8 677.7C101.1 678.4 107.6 679.6 112.4 679.2C117.2 678.8 122.4 676 124.4 675.4" fill="none" stroke="#bddb63" stroke-width="0.9" stroke-linecap="round"/>
<path d="M55.1 724.4C56.9 724.4 62.7 724.8 65.7 724.4C68.7 724 72 722.5 73.2 722.1" fill="none" stroke="#7fa83a" stroke-width="1.9" stroke-linecap="round" opacity="0.95"/>
<path d="M55.1 724.4C56.9 724.4 62.7 724.8 65.7 724.4C68.7 724 72 722.5 73.2 722.1" fill="none" stroke="#bddb63" stroke-width="0.9" stroke-linecap="round"/>
<path d="M127.5 724.4C128.5 724 131.7 722.8 133.5 722.1C135.2 721.5 137.3 720.9 138 720.6" fill="none" stroke="#7fa83a" stroke-width="1.9" stroke-linecap="round" opacity="0.95"/>
<path d="M127.5 724.4C128.5 724 131.7 722.8 133.5 722.1C135.2 721.5 137.3 720.9 138 720.6" fill="none" stroke="#bddb63" stroke-width="0.9" stroke-linecap="round"/>
<path d="M43.1 673.5C42.8 675.4 41.6 682.2 41.6 685.2C41.6 688.2 42.8 690.2 43.1 691.2" fill="none" stroke="#7fa83a" stroke-width="1.9" stroke-linecap="round" opacity="0.95"/>
<path d="M43.1 673.5C42.8 675.4 41.6 682.2 41.6 685.2C41.6 688.2 42.8 690.2 43.1 691.2" fill="none" stroke="#bddb63" stroke-width="0.9" stroke-linecap="round"/>
<path d="M58.1 693C59.6 692.5 63.9 691 67.2 689.7C70.4 688.4 73.7 686.2 77.7 685.2C81.7 684.3 89 684.2 91.3 684" fill="none" stroke="#7fa83a" stroke-width="1.9" stroke-linecap="round" opacity="0.95"/>
<path d="M58.1 693C59.6 692.5 63.9 691 67.2 689.7C70.4 688.4 73.7 686.2 77.7 685.2C81.7 684.3 89 684.2 91.3 684" fill="none" stroke="#bddb63" stroke-width="0.9" stroke-linecap="round"/>
<path d="M127.5 658.1C129 657.6 134 654.8 136.5 655.1C139 655.3 142 657.6 142.5 659.6C143 661.6 140 665.9 139.5 667.1" fill="none" stroke="#7fa83a" stroke-width="1.9" stroke-linecap="round" opacity="0.95"/>
<path d="M127.5 658.1C129 657.6 134 654.8 136.5 655.1C139 655.3 142 657.6 142.5 659.6C143 661.6 140 665.9 139.5 667.1" fill="none" stroke="#bddb63" stroke-width="0.9" stroke-linecap="round"/>
<path d="M47.6 662.6C49.3 661.9 54.9 658.6 58.1 658.1C61.4 657.6 65.7 659.3 67.2 659.6" fill="none" stroke="#7fa83a" stroke-width="1.9" stroke-linecap="round" opacity="0.95"/>
<path d="M47.6 662.6C49.3 661.9 54.9 658.6 58.1 658.1C61.4 657.6 65.7 659.3 67.2 659.6" fill="none" stroke="#bddb63" stroke-width="0.9" stroke-linecap="round"/>
<circle cx="45.9" cy="685" r="1.9" fill="url(#gIonB)"/>
<circle cx="48.8" cy="685.4" r="1.4" fill="url(#gIonT)"/>
<circle cx="72.6" cy="683.8" r="1.9" fill="url(#gIonB)"/>
<circle cx="75.5" cy="684.2" r="1.4" fill="url(#gIonT)"/>
<circle cx="99.3" cy="683.6" r="1.9" fill="url(#gIonB)"/>
<circle cx="102.2" cy="684" r="1.4" fill="url(#gIonT)"/>
<circle cx="134.6" cy="683.8" r="1.9" fill="url(#gIonB)"/>
<circle cx="137.5" cy="684.2" r="1.4" fill="url(#gIonT)"/>
<circle cx="76.9" cy="705.3" r="1.9" fill="url(#gIonB)"/>
<circle cx="79.8" cy="705.7" r="1.4" fill="url(#gIonT)"/>
<circle cx="49.4" cy="711.2" r="1.9" fill="url(#gIonB)"/>
<circle cx="52.3" cy="711.6" r="1.4" fill="url(#gIonT)"/>
<circle cx="132.1" cy="718" r="1.9" fill="url(#gIonB)"/>
<circle cx="135" cy="718.4" r="1.4" fill="url(#gIonT)"/>
<circle cx="56.3" cy="655.2" r="1.9" fill="url(#gIonB)"/>
<circle cx="59.2" cy="655.6" r="1.4" fill="url(#gIonT)"/>
<circle cx="87.3" cy="655.7" r="1.9" fill="url(#gIonB)"/>
<circle cx="90.2" cy="656.1" r="1.4" fill="url(#gIonT)"/>
<circle cx="113.1" cy="655.2" r="1.9" fill="url(#gIonB)"/>
<circle cx="116" cy="655.6" r="1.4" fill="url(#gIonT)"/>
<circle cx="95.9" cy="662.9" r="1.9" fill="url(#gIonB)"/>
<circle cx="98.8" cy="663.3" r="1.4" fill="url(#gIonT)"/>
<circle cx="52" cy="662.6" r="1.9" fill="url(#gIonB)"/>
<circle cx="54.9" cy="663" r="1.4" fill="url(#gIonT)"/>
<circle cx="132.1" cy="664.7" r="1.9" fill="url(#gIonB)"/>
<circle cx="135" cy="665.1" r="1.4" fill="url(#gIonT)"/>
<circle cx="97.6" cy="716.8" r="1.9" fill="url(#gIonB)"/>
<circle cx="100.5" cy="717.2" r="1.4" fill="url(#gIonT)"/>
<rect x="92.6" y="708.2" width="14.6" height="12.1" rx="2" fill="none" stroke="#2b36dc" stroke-width="1.2" stroke-dasharray="3.2 1.6"/>
<path d="M92.6 718.6L35.8 758.2M107.2 718.6L157.2 758.2" stroke="#222" stroke-width="0.85" stroke-dasharray="2.6 1.4" fill="none"/>
<path d="M206.7 651.3L294.6 651.3L313.5 675.4L186.1 675.4Z" fill="#edf8f7"/>
<path d="M186.1 675.4L313.5 675.4L307.5 726.2L193 726.2Z" fill="#e6f5f3"/>
<path d="M189.5 701.2L310.5 701.2L307.5 726.2L193 726.2Z" fill="#99c2bd"/>
<path d="M186.1 675.4L206.7 651.3L209.4 652.1L190.4 676.6L196.4 726.2L193 726.2Z" fill="#c9eae7" opacity="0.85"/>
<path d="M313.5 675.4L294.6 651.3L291.9 652.1L309.2 676.6L304.1 726.2L307.5 726.2Z" fill="#c9eae7" opacity="0.85"/>
<path d="M206.7 651.3L213.4 651.3L203.9 662.1Z" fill="#58b4c0" opacity="0.9"/>
<path d="M294.6 651.3L287.9 651.3L297.4 662.1Z" fill="#58b4c0" opacity="0.9"/>
<path d="M186.1 675.4L313.5 675.4" fill="none" stroke="#63cdd2" stroke-width="0.8"/>
<path d="M206.7 651.3L294.6 651.3L313.5 675.4L186.1 675.4Z" fill="none" stroke="#a9dedd" stroke-width="0.7"/>
<path d="M186.1 675.4L193 726.2L307.5 726.2L313.5 675.4" fill="none" stroke="#a9dedd" stroke-width="0.7"/>
<path d="M221.6 654.4C222.8 655.3 225.1 658.7 229.1 659.7C233.1 660.7 240.2 660.8 245.7 660.4C251.2 660.1 257.8 658.4 262.3 657.4C266.8 656.4 272.3 655.3 272.8 654.4C273.3 653.5 269.6 652.2 265.3 651.8C261 651.5 252.7 651.8 247.2 652.4C241.7 653.1 236 654.6 232.1 655.9C228.2 657.2 225.2 659.7 223.8 660.4" fill="none" stroke="#7fa83a" stroke-width="1.9" stroke-linecap="round" opacity="0.95"/>
<path d="M221.6 654.4C222.8 655.3 225.1 658.7 229.1 659.7C233.1 660.7 240.2 660.8 245.7 660.4C251.2 660.1 257.8 658.4 262.3 657.4C266.8 656.4 272.3 655.3 272.8 654.4C273.3 653.5 269.6 652.2 265.3 651.8C261 651.5 252.7 651.8 247.2 652.4C241.7 653.1 236 654.6 232.1 655.9C228.2 657.2 225.2 659.7 223.8 660.4" fill="none" stroke="#bddb63" stroke-width="0.9" stroke-linecap="round"/>
<path d="M262.3 661.2C263.8 661.3 269.3 662.4 271.3 661.9C273.4 661.4 274.6 659.3 274.6 658.2C274.6 657 271.9 655.7 271.3 655.2" fill="none" stroke="#7fa83a" stroke-width="1.9" stroke-linecap="round" opacity="0.95"/>
<path d="M262.3 661.2C263.8 661.3 269.3 662.4 271.3 661.9C273.4 661.4 274.6 659.3 274.6 658.2C274.6 657 271.9 655.7 271.3 655.2" fill="none" stroke="#bddb63" stroke-width="0.9" stroke-linecap="round"/>
<path d="M196 675.1C197.2 673.9 199.7 669.8 203.5 668C207.3 666.2 212.3 664.5 218.6 664.2C224.9 664 233.6 665.7 241.2 666.5C248.7 667.2 256.2 668.6 263.8 668.7C271.3 668.9 280.6 668 286.4 667.2C292.2 666.5 296.4 664.7 298.4 664.2" fill="none" stroke="#7fa83a" stroke-width="1.9" stroke-linecap="round" opacity="0.95"/>
<path d="M196 675.1C197.2 673.9 199.7 669.8 203.5 668C207.3 666.2 212.3 664.5 218.6 664.2C224.9 664 233.6 665.7 241.2 666.5C248.7 667.2 256.2 668.6 263.8 668.7C271.3 668.9 280.6 668 286.4 667.2C292.2 666.5 296.4 664.7 298.4 664.2" fill="none" stroke="#bddb63" stroke-width="0.9" stroke-linecap="round"/>
<path d="M205 671.7C207.3 671 213.8 668.2 218.6 667.2C223.3 666.2 227.4 665.2 233.6 665.7C239.9 666.2 249.5 669 256.2 670.2C263 671.5 269.3 673 274.3 673.2C279.4 673.5 284.4 672 286.4 671.7" fill="none" stroke="#7fa83a" stroke-width="1.9" stroke-linecap="round" opacity="0.95"/>
<path d="M205 671.7C207.3 671 213.8 668.2 218.6 667.2C223.3 666.2 227.4 665.2 233.6 665.7C239.9 666.2 249.5 669 256.2 670.2C263 671.5 269.3 673 274.3 673.2C279.4 673.5 284.4 672 286.4 671.7" fill="none" stroke="#bddb63" stroke-width="0.9" stroke-linecap="round"/>
<path d="M195.2 686.8C195.6 688.1 195.8 692.1 197.5 694.3C199.1 696.6 201.5 699.1 205 700.4C208.5 701.6 213.8 701.8 218.6 701.9C223.3 702 228.6 701.1 233.6 701.1C238.7 701.1 243.7 700.7 248.7 701.9C253.7 703 258.8 706.1 263.8 707.9C268.8 709.7 274.6 711.9 278.9 712.4C283.1 712.9 287.6 711.2 289.4 710.9" fill="none" stroke="#7fa83a" stroke-width="1.9" stroke-linecap="round" opacity="0.95"/>
<path d="M195.2 686.8C195.6 688.1 195.8 692.1 197.5 694.3C199.1 696.6 201.5 699.1 205 700.4C208.5 701.6 213.8 701.8 218.6 701.9C223.3 702 228.6 701.1 233.6 701.1C238.7 701.1 243.7 700.7 248.7 701.9C253.7 703 258.8 706.1 263.8 707.9C268.8 709.7 274.6 711.9 278.9 712.4C283.1 712.9 287.6 711.2 289.4 710.9" fill="none" stroke="#bddb63" stroke-width="0.9" stroke-linecap="round"/>
<path d="M203.5 679.3C204.5 679.7 209.3 681 209.5 682C209.8 683 205.8 684.7 205 685.3" fill="none" stroke="#7fa83a" stroke-width="1.9" stroke-linecap="round" opacity="0.95"/>
<path d="M203.5 679.3C204.5 679.7 209.3 681 209.5 682C209.8 683 205.8 684.7 205 685.3" fill="none" stroke="#bddb63" stroke-width="0.9" stroke-linecap="round"/>
<path d="M230.6 685.3C231.1 686.3 232.9 689.4 233.6 691.3C234.4 693.2 234.9 695.7 235.1 696.6" fill="none" stroke="#7fa83a" stroke-width="1.9" stroke-linecap="round" opacity="0.95"/>
<path d="M230.6 685.3C231.1 686.3 232.9 689.4 233.6 691.3C234.4 693.2 234.9 695.7 235.1 696.6" fill="none" stroke="#bddb63" stroke-width="0.9" stroke-linecap="round"/>
<path d="M218.6 692.8C218.1 693.6 215.1 695.8 215.6 697.4C216.1 698.9 220.5 699.4 221.6 701.9C222.6 704.4 222.4 709.4 221.9 712.4C221.4 715.4 220.4 718.2 218.6 720C216.8 721.7 213.6 723.2 211 723C208.5 722.7 205.8 720.7 203.5 718.5C201.2 716.2 198.5 710.9 197.5 709.4" fill="none" stroke="#7fa83a" stroke-width="1.9" stroke-linecap="round" opacity="0.95"/>
<path d="M218.6 692.8C218.1 693.6 215.1 695.8 215.6 697.4C216.1 698.9 220.5 699.4 221.6 701.9C222.6 704.4 222.4 709.4 221.9 712.4C221.4 715.4 220.4 718.2 218.6 720C216.8 721.7 213.6 723.2 211 723C208.5 722.7 205.8 720.7 203.5 718.5C201.2 716.2 198.5 710.9 197.5 709.4" fill="none" stroke="#bddb63" stroke-width="0.9" stroke-linecap="round"/>
<path d="M277.3 676.3C276.3 677.8 274.3 682.5 271.3 685.3C268.3 688.1 262.8 690.1 259.3 692.8C255.7 695.6 252.2 698.9 250.2 701.9C248.2 704.9 247 708.2 247.2 710.9C247.5 713.7 249.2 717.1 251.7 718.5C254.2 719.8 260 720.3 262.3 718.8C264.6 717.2 265.6 712.7 265.6 709.4C265.6 706.1 262.8 700.6 262.3 698.9" fill="none" stroke="#7fa83a" stroke-width="1.9" stroke-linecap="round" opacity="0.95"/>
<path d="M277.3 676.3C276.3 677.8 274.3 682.5 271.3 685.3C268.3 688.1 262.8 690.1 259.3 692.8C255.7 695.6 252.2 698.9 250.2 701.9C248.2 704.9 247 708.2 247.2 710.9C247.5 713.7 249.2 717.1 251.7 718.5C254.2 719.8 260 720.3 262.3 718.8C264.6 717.2 265.6 712.7 265.6 709.4C265.6 706.1 262.8 700.6 262.3 698.9" fill="none" stroke="#bddb63" stroke-width="0.9" stroke-linecap="round"/>
<path d="M238.2 707.9C239.4 708.9 242.7 712.2 245.7 713.9C248.7 715.7 253 718 256.2 718.5C259.5 719 263.8 717.2 265.3 716.9" fill="none" stroke="#7fa83a" stroke-width="1.9" stroke-linecap="round" opacity="0.95"/>
<path d="M238.2 707.9C239.4 708.9 242.7 712.2 245.7 713.9C248.7 715.7 253 718 256.2 718.5C259.5 719 263.8 717.2 265.3 716.9" fill="none" stroke="#bddb63" stroke-width="0.9" stroke-linecap="round"/>
<path d="M217.1 716.2C218.6 716.8 222.1 719.3 226.1 720C230.1 720.6 237.7 720.8 241.2 720.3C244.7 719.8 246.2 717.5 247.2 716.9" fill="none" stroke="#7fa83a" stroke-width="1.9" stroke-linecap="round" opacity="0.95"/>
<path d="M217.1 716.2C218.6 716.8 222.1 719.3 226.1 720C230.1 720.6 237.7 720.8 241.2 720.3C244.7 719.8 246.2 717.5 247.2 716.9" fill="none" stroke="#bddb63" stroke-width="0.9" stroke-linecap="round"/>
<path d="M284.9 656.7C285.2 659.2 286.7 666.7 286.7 671.7C286.7 676.8 284.9 681.8 284.9 686.8C284.9 691.8 286.7 696.9 286.7 701.9C286.7 706.9 285.2 714.4 284.9 716.9" fill="none" stroke="#7fa83a" stroke-width="1.9" stroke-linecap="round" opacity="0.95"/>
<path d="M284.9 656.7C285.2 659.2 286.7 666.7 286.7 671.7C286.7 676.8 284.9 681.8 284.9 686.8C284.9 691.8 286.7 696.9 286.7 701.9C286.7 706.9 285.2 714.4 284.9 716.9" fill="none" stroke="#bddb63" stroke-width="0.9" stroke-linecap="round"/>
<path d="M292.4 664.2C292.7 666.7 294.3 674.3 294.2 679.3C294.1 684.3 291.8 689.3 291.7 694.3C291.5 699.4 293.7 704.6 293.3 709.4C292.9 714.2 290.1 720.7 289.4 723" fill="none" stroke="#7fa83a" stroke-width="1.9" stroke-linecap="round" opacity="0.95"/>
<path d="M292.4 664.2C292.7 666.7 294.3 674.3 294.2 679.3C294.1 684.3 291.8 689.3 291.7 694.3C291.5 699.4 293.7 704.6 293.3 709.4C292.9 714.2 290.1 720.7 289.4 723" fill="none" stroke="#bddb63" stroke-width="0.9" stroke-linecap="round"/>
<path d="M301.5 677.8C302.2 679.3 305.5 682.8 306 686.8C306.5 690.8 304.4 696.9 304.5 701.9C304.5 706.9 306 714.4 306.3 716.9" fill="none" stroke="#7fa83a" stroke-width="1.9" stroke-linecap="round" opacity="0.95"/>
<path d="M301.5 677.8C302.2 679.3 305.5 682.8 306 686.8C306.5 690.8 304.4 696.9 304.5 701.9C304.5 706.9 306 714.4 306.3 716.9" fill="none" stroke="#bddb63" stroke-width="0.9" stroke-linecap="round"/>
<path d="M309 679.3C309.3 681.8 310.9 689.3 310.8 694.3C310.7 699.4 308.5 704.6 308.2 709.4C308 714.2 309.1 720.7 309.3 723" fill="none" stroke="#7fa83a" stroke-width="1.9" stroke-linecap="round" opacity="0.95"/>
<path d="M309 679.3C309.3 681.8 310.9 689.3 310.8 694.3C310.7 699.4 308.5 704.6 308.2 709.4C308 714.2 309.1 720.7 309.3 723" fill="none" stroke="#bddb63" stroke-width="0.9" stroke-linecap="round"/>
<path d="M271.3 716.9C272.6 716.7 276.3 715.9 278.9 715.4C281.4 714.9 284.1 715.2 286.4 713.9C288.6 712.7 291.4 708.9 292.4 707.9" fill="none" stroke="#7fa83a" stroke-width="1.9" stroke-linecap="round" opacity="0.95"/>
<path d="M271.3 716.9C272.6 716.7 276.3 715.9 278.9 715.4C281.4 714.9 284.1 715.2 286.4 713.9C288.6 712.7 291.4 708.9 292.4 707.9" fill="none" stroke="#bddb63" stroke-width="0.9" stroke-linecap="round"/>
<path d="M277.3 677.8C278.9 678.3 283.4 679.3 286.4 680.8C289.4 682.3 292.9 685.3 295.4 686.8C297.9 688.4 300.4 689.6 301.5 690.1" fill="none" stroke="#7fa83a" stroke-width="1.9" stroke-linecap="round" opacity="0.95"/>
<path d="M277.3 677.8C278.9 678.3 283.4 679.3 286.4 680.8C289.4 682.3 292.9 685.3 295.4 686.8C297.9 688.4 300.4 689.6 301.5 690.1" fill="none" stroke="#bddb63" stroke-width="0.9" stroke-linecap="round"/>
<path d="M233.6 676.3C236.2 676.8 243.4 678.5 248.7 679.3C254 680 260.5 681.2 265.3 680.8C270.1 680.4 275.3 677.6 277.3 677" fill="none" stroke="#7fa83a" stroke-width="1.9" stroke-linecap="round" opacity="0.95"/>
<path d="M233.6 676.3C236.2 676.8 243.4 678.5 248.7 679.3C254 680 260.5 681.2 265.3 680.8C270.1 680.4 275.3 677.6 277.3 677" fill="none" stroke="#bddb63" stroke-width="0.9" stroke-linecap="round"/>
<path d="M208 726C209.8 726 215.6 726.4 218.6 726C221.6 725.6 224.9 724.1 226.1 723.7" fill="none" stroke="#7fa83a" stroke-width="1.9" stroke-linecap="round" opacity="0.95"/>
<path d="M208 726C209.8 726 215.6 726.4 218.6 726C221.6 725.6 224.9 724.1 226.1 723.7" fill="none" stroke="#bddb63" stroke-width="0.9" stroke-linecap="round"/>
<path d="M280.4 726C281.4 725.6 284.6 724.4 286.4 723.7C288.1 723.1 290.2 722.5 290.9 722.2" fill="none" stroke="#7fa83a" stroke-width="1.9" stroke-linecap="round" opacity="0.95"/>
<path d="M280.4 726C281.4 725.6 284.6 724.4 286.4 723.7C288.1 723.1 290.2 722.5 290.9 722.2" fill="none" stroke="#bddb63" stroke-width="0.9" stroke-linecap="round"/>
<path d="M196 675.1C195.7 677 194.5 683.8 194.5 686.8C194.5 689.8 195.7 691.8 196 692.8" fill="none" stroke="#7fa83a" stroke-width="1.9" stroke-linecap="round" opacity="0.95"/>
<path d="M196 675.1C195.7 677 194.5 683.8 194.5 686.8C194.5 689.8 195.7 691.8 196 692.8" fill="none" stroke="#bddb63" stroke-width="0.9" stroke-linecap="round"/>
<path d="M211 694.6C212.5 694.1 216.8 692.6 220.1 691.3C223.3 690 226.6 687.8 230.6 686.8C234.6 685.9 241.9 685.8 244.2 685.6" fill="none" stroke="#7fa83a" stroke-width="1.9" stroke-linecap="round" opacity="0.95"/>
<path d="M211 694.6C212.5 694.1 216.8 692.6 220.1 691.3C223.3 690 226.6 687.8 230.6 686.8C234.6 685.9 241.9 685.8 244.2 685.6" fill="none" stroke="#bddb63" stroke-width="0.9" stroke-linecap="round"/>
<path d="M280.4 659.7C281.9 659.2 286.9 656.4 289.4 656.7C291.9 656.9 294.9 659.2 295.4 661.2C295.9 663.2 292.9 667.5 292.4 668.7" fill="none" stroke="#7fa83a" stroke-width="1.9" stroke-linecap="round" opacity="0.95"/>
<path d="M280.4 659.7C281.9 659.2 286.9 656.4 289.4 656.7C291.9 656.9 294.9 659.2 295.4 661.2C295.9 663.2 292.9 667.5 292.4 668.7" fill="none" stroke="#bddb63" stroke-width="0.9" stroke-linecap="round"/>
<path d="M200.5 664.2C202.2 663.5 207.8 660.2 211 659.7C214.3 659.2 218.6 660.9 220.1 661.2" fill="none" stroke="#7fa83a" stroke-width="1.9" stroke-linecap="round" opacity="0.95"/>
<path d="M200.5 664.2C202.2 663.5 207.8 660.2 211 659.7C214.3 659.2 218.6 660.9 220.1 661.2" fill="none" stroke="#bddb63" stroke-width="0.9" stroke-linecap="round"/>
<circle cx="202.3" cy="686.6" r="2" fill="url(#gIonB)"/>
<circle cx="229" cy="685.4" r="2" fill="url(#gIonB)"/>
<circle cx="255.7" cy="685.2" r="2" fill="url(#gIonB)"/>
<circle cx="291" cy="685.4" r="2" fill="url(#gIonB)"/>
<circle cx="233.3" cy="706.9" r="2" fill="url(#gIonB)"/>
<circle cx="205.8" cy="712.8" r="2" fill="url(#gIonB)"/>
<circle cx="288.5" cy="719.6" r="2" fill="url(#gIonB)"/>
<circle cx="212.7" cy="656.8" r="2" fill="url(#gIonB)"/>
<circle cx="243.7" cy="657.3" r="2" fill="url(#gIonB)"/>
<circle cx="269.5" cy="656.8" r="2" fill="url(#gIonB)"/>
<circle cx="252.3" cy="664.5" r="2" fill="url(#gIonB)"/>
<circle cx="208.4" cy="664.2" r="2" fill="url(#gIonB)"/>
<circle cx="288.5" cy="666.3" r="2" fill="url(#gIonB)"/>
<circle cx="254" cy="718.4" r="2" fill="url(#gIonB)"/>
<circle cx="194.6" cy="684.8" r="3.0" fill="url(#gRed2)"/>
<circle cx="232.1" cy="683" r="3.0" fill="url(#gRed2)"/>
<circle cx="260.5" cy="683" r="3.0" fill="url(#gRed2)"/>
<circle cx="293.4" cy="683.9" r="3.0" fill="url(#gRed2)"/>
<circle cx="247.7" cy="696.7" r="3.0" fill="url(#gRed2)"/>
<circle cx="260" cy="700.7" r="3.0" fill="url(#gRed2)"/>
<circle cx="227.2" cy="703.7" r="3.0" fill="url(#gRed2)"/>
<circle cx="292" cy="700.7" r="3.0" fill="url(#gRed2)"/>
<circle cx="199.2" cy="719.6" r="3.0" fill="url(#gRed2)"/>
<circle cx="249.2" cy="719.6" r="3.0" fill="url(#gRed2)"/>
<circle cx="289.4" cy="721.4" r="3.0" fill="url(#gRed2)"/>
<circle cx="223.5" cy="715" r="3.0" fill="url(#gRed2)"/>
<circle cx="294.4" cy="715.9" r="3.0" fill="url(#gRed2)"/>
<ellipse cx="209.3" cy="651.9" rx="2.6" ry="1.5" fill="url(#gRed2)"/>
<ellipse cx="231.2" cy="654.6" rx="2.6" ry="1.5" fill="url(#gRed2)"/>
<ellipse cx="255.9" cy="654.6" rx="2.6" ry="1.5" fill="url(#gRed2)"/>
<ellipse cx="286.1" cy="651.9" rx="2.6" ry="1.5" fill="url(#gRed2)"/>
<ellipse cx="199.2" cy="663.8" rx="2.6" ry="1.5" fill="url(#gRed2)"/>
<ellipse cx="225.7" cy="664.7" rx="2.6" ry="1.5" fill="url(#gRed2)"/>
<ellipse cx="251.4" cy="666.5" rx="2.6" ry="1.5" fill="url(#gRed2)"/>
<ellipse cx="284.3" cy="663.8" rx="2.6" ry="1.5" fill="url(#gRed2)"/>
<ellipse cx="295.3" cy="670.2" rx="2.6" ry="1.5" fill="url(#gRed2)"/>
<circle cx="305" cy="690" r="3.0" fill="url(#gRed2)"/>
<circle cx="300" cy="716" r="3.0" fill="url(#gRed2)"/>
<rect x="244.4" y="711.3" width="14.6" height="11.9" rx="2" fill="none" stroke="#2b36dc" stroke-width="1.2" stroke-dasharray="3.2 1.6"/>
<path d="M244.4 722.3L191 757.1M259 722.3L311.7 757.1" stroke="#222" stroke-width="0.85" stroke-dasharray="2.6 1.4" fill="none"/>
<rect x="30.7" y="753.2" width="131.8" height="104.3" rx="13" fill="#fff" stroke="#222" stroke-width="1.15" stroke-dasharray="4.4 2.3"/>
<path d="M41.7 777.9C44 778.5 50.7 781.8 55.4 781.6C60.1 781.5 64.9 779 70.1 777C75.3 775 81.4 770.9 86.6 769.7C91.8 768.5 96.3 769.6 101.2 769.7C106.1 769.9 111.5 771.2 115.8 770.6C120.1 770 123.1 767.2 126.8 766C130.5 764.8 134.5 763.5 137.8 763.3C141.2 763.1 145.4 764.5 146.9 764.8M48.1 760.6C48.7 762.6 51.2 768.3 51.8 772.4C52.4 776.5 50.9 781 51.8 785.3C52.7 789.6 55.8 793.8 57.3 798.1C58.8 802.4 60.6 806.3 60.9 810.9C61.2 815.5 60.2 821.2 59.1 825.5C58 829.8 55.4 832.8 54.5 836.5C53.6 840.2 52.8 844.8 53.6 847.5C54.4 850.2 58.2 852.1 59.1 853M123.2 757.8C124 759 127.4 762 127.7 765.1C128 768.2 125.8 772.1 125 776.1C124.2 780.1 122.8 784.6 123.2 788.9C123.7 793.2 127 797.4 127.7 801.7C128.4 806 129.1 810.2 127.7 814.5C126.3 818.8 121.5 823.6 119.5 827.3C117.5 831 116.1 833.5 115.8 836.5C115.5 839.5 116.8 843 117.7 845.6C118.6 848.2 120.7 850.9 121.3 852M41.7 850.8C42.8 850.1 45.2 847.5 48.1 846.6C51 845.7 54.8 845.9 59.1 845.6C63.4 845.3 69.1 845.6 73.7 844.7C78.3 843.8 82.9 841.3 86.6 840.2C90.3 839.1 92.7 838.3 95.7 838.3C98.8 838.3 101.6 839.3 104.9 840.2C108.2 841.1 111.5 843 115.8 843.8C120.1 844.5 126.2 845 130.5 844.7C134.8 844.4 138.7 842.8 141.4 842C144.1 841.2 146 840.2 146.9 839.8" fill="none" stroke="#b3cf24" stroke-width="1.5" stroke-linecap="round"/>
<path d="M87 778.2L84.8 781.1M88.6 779.4L86.4 782.4M90.2 780.7L88 783.6M91.9 781.9L89.6 784.9M93.5 783.2L91.2 786.1M118.7 779.7L115.6 777.9M117.7 781.5L114.5 779.6M116.7 783.3L113.5 781.4M115.7 785L112.5 783.2M114.6 786.8L111.5 784.9M60.1 798.3L56.6 797.1M59.4 800.4L55.9 799.2M58.7 802.5L55.2 801.3M57.9 804.6L54.4 803.4M57.2 806.8L53.7 805.5M134.4 797.3L132.7 800.5M136.2 798.2L134.4 801.5M137.9 799.2L136.2 802.4M139.7 800.1L137.9 803.4M141.5 801.1L139.7 804.3M132.3 818.1L128.9 816.6M131.5 820L128.1 818.6M130.7 822L127.3 820.6M129.8 824L126.4 822.5M99.6 819.2L95.9 818.7M99.3 821.4L95.6 820.9M99 823.6L95.3 823.1M98.7 825.8L95 825.3M98.4 828L94.7 827.5M46.3 832.4L42.6 832.4M46.3 834.5L42.6 834.5M46.3 836.6L42.6 836.6M46.3 838.7L42.6 838.7" stroke="#111" stroke-width="1.25" fill="none"/>
<circle cx="82.9" cy="777" r="3.1" fill="#12b34b"/>
<circle cx="119.5" cy="774.8" r="3.1" fill="#12b34b"/>
<circle cx="58.6" cy="793.5" r="3.1" fill="#12b34b"/>
<circle cx="130.1" cy="797.5" r="3.1" fill="#12b34b"/>
<circle cx="127.7" cy="826.4" r="3.1" fill="#12b34b"/>
<circle cx="96.1" cy="831.4" r="3.1" fill="#12b34b"/>
<circle cx="44.8" cy="842.3" r="3.1" fill="#12b34b"/>
<circle cx="78.9" cy="849.8" r="3.1" fill="#12b34b"/>
<path d="M100.1 807.4L94.3 801.8L97.9 794.5L105.9 795.6L107.3 803.6Z" fill="none" stroke="#5a5ae6" stroke-width="0.9" stroke-linejoin="round"/><path d="M100.4 805.8L95.9 801.5L98.6 795.9L104.8 796.8L105.9 802.9Z" fill="none" stroke="#5a5ae6" stroke-width="0.55" opacity="0.8"/><circle cx="101.1" cy="800.6" r="2.9" fill="none" stroke="#5a5ae6" stroke-width="0.7"/><path d="M99.6 800.6h3M101.1 799.1v3" stroke="#5a5ae6" stroke-width="0.7"/><path d="M100.1 807.4L99.7 810.8M97.9 794.5L96.3 791.5M105.9 795.6L108.3 793.2M91.7 802.2L84.7 803.6L78.3 798.1L71.9 799L65.5 792.6M109.6 804.8L116.7 808.1" fill="none" stroke="#5a5ae6" stroke-width="1.15" stroke-linejoin="round" stroke-linecap="round"/><text x="99.3" y="815.6" font-size="5.2" font-weight="bold" fill="#5a5ae6" text-anchor="middle">H</text><text x="94.9" y="790.8" font-size="5.2" font-weight="bold" fill="#5a5ae6" text-anchor="middle">H</text><text x="110.3" y="793" font-size="5.2" font-weight="bold" fill="#5a5ae6" text-anchor="middle">H</text><text x="94" y="803.8" font-size="5.4" font-weight="bold" fill="#5a5ae6" text-anchor="middle" stroke="#fff" stroke-width="1.5" paint-order="stroke">N</text><text x="107.6" y="805.7" font-size="5.4" font-weight="bold" fill="#5a5ae6" text-anchor="middle" stroke="#fff" stroke-width="1.5" paint-order="stroke">N</text>
<path d="M50.4 812.8L52.9 820.5L46.3 825.3L39.7 820.5L42.2 812.8Z" fill="none" stroke="#5a5ae6" stroke-width="0.9" stroke-linejoin="round"/><path d="M49.4 814.1L51.3 820L46.3 823.7L41.3 820L43.2 814.1Z" fill="none" stroke="#5a5ae6" stroke-width="0.55" opacity="0.8"/><circle cx="46.3" cy="818.4" r="2.9" fill="none" stroke="#5a5ae6" stroke-width="0.7"/><path d="M44.8 818.4h3M46.3 816.9v3" stroke="#5a5ae6" stroke-width="0.7"/><path d="M50.4 812.8L52.4 810.1M46.3 825.3L46.3 828.7M39.7 820.5L36.5 821.6M55.3 821.3L60 824.6L63.7 831.9L69.2 834.7L69.2 842M40.7 810.7L38.1 805.4" fill="none" stroke="#5a5ae6" stroke-width="1.15" stroke-linejoin="round" stroke-linecap="round"/><text x="54.1" y="809.6" font-size="5.2" font-weight="bold" fill="#5a5ae6" text-anchor="middle">H</text><text x="46.3" y="833.5" font-size="5.2" font-weight="bold" fill="#5a5ae6" text-anchor="middle">H</text><text x="33.7" y="824.4" font-size="5.2" font-weight="bold" fill="#5a5ae6" text-anchor="middle">H</text><text x="53.1" y="822.5" font-size="5.4" font-weight="bold" fill="#5a5ae6" text-anchor="middle" stroke="#fff" stroke-width="1.5" paint-order="stroke">N</text><text x="42.1" y="814.5" font-size="5.4" font-weight="bold" fill="#5a5ae6" text-anchor="middle" stroke="#fff" stroke-width="1.5" paint-order="stroke">N</text>
<path d="M149.9 822.6L141.9 823.5L138.6 816.1L144.6 810.6L151.6 814.7Z" fill="none" stroke="#5a5ae6" stroke-width="0.9" stroke-linejoin="round"/><path d="M148.8 821.4L142.7 822.1L140.1 816.4L144.7 812.2L150.1 815.3Z" fill="none" stroke="#5a5ae6" stroke-width="0.55" opacity="0.8"/><circle cx="145.3" cy="817.5" r="2.9" fill="none" stroke="#5a5ae6" stroke-width="0.7"/><path d="M143.8 817.5h3M145.3 816v3" stroke="#5a5ae6" stroke-width="0.7"/><path d="M149.9 822.6L152.2 825.2M138.6 816.1L135.2 815.4M144.6 810.6L144.2 807.3M140.6 825.7L137.8 831L128.6 832.8L126.8 838.3L118.6 839.2M154 813.6L160.7 809" fill="none" stroke="#5a5ae6" stroke-width="1.15" stroke-linejoin="round" stroke-linecap="round"/><text x="154.1" y="829.2" font-size="5.2" font-weight="bold" fill="#5a5ae6" text-anchor="middle">H</text><text x="132.4" y="816.7" font-size="5.2" font-weight="bold" fill="#5a5ae6" text-anchor="middle">H</text><text x="143.9" y="806.3" font-size="5.2" font-weight="bold" fill="#5a5ae6" text-anchor="middle">H</text><text x="141.7" y="825.6" font-size="5.4" font-weight="bold" fill="#5a5ae6" text-anchor="middle" stroke="#fff" stroke-width="1.5" paint-order="stroke">N</text><text x="151.9" y="816.5" font-size="5.4" font-weight="bold" fill="#5a5ae6" text-anchor="middle" stroke="#fff" stroke-width="1.5" paint-order="stroke">N</text>
<text x="78.6" y="792.4" font-size="6.3" font-weight="bold" fill="#f0872b">Br</text>
<circle cx="87.8" cy="788.4" r="1.6" fill="none" stroke="#f0872b" stroke-width="0.5"/><path d="M87 788.4h1.6" stroke="#f0872b" stroke-width="0.5"/>
<text x="66.6" y="828" font-size="6.3" font-weight="bold" fill="#f0872b">Br</text>
<circle cx="75.8" cy="824" r="1.6" fill="none" stroke="#f0872b" stroke-width="0.5"/><path d="M75 824h1.6" stroke="#f0872b" stroke-width="0.5"/>
<text x="139" y="835.8" font-size="6.3" font-weight="bold" fill="#f0872b">Br</text>
<circle cx="148.2" cy="831.8" r="1.6" fill="none" stroke="#f0872b" stroke-width="0.5"/><path d="M147.4 831.8h1.6" stroke="#f0872b" stroke-width="0.5"/>
<rect x="185.5" y="753.2" width="131.7" height="104.3" rx="13" fill="#fff" stroke="#222" stroke-width="1.15" stroke-dasharray="4.4 2.3"/>
<ellipse cx="244.2" cy="805" rx="23" ry="6.9" transform="rotate(-59.8 244.2 805)" fill="#fbdca4"/>
<circle cx="299.3" cy="792.9" r="7.8" fill="#fbdca4"/>
<clipPath id="cpM"><rect x="185.5" y="753.2" width="131.7" height="104.3" rx="13"/></clipPath>
<circle cx="282.8" cy="849.7" r="7.8" fill="#fbdca4" clip-path="url(#cpM)"/>
<path d="M191 778.9C192.8 778.3 198.3 775.2 202 775.2C205.7 775.2 209 779.4 212.9 778.9C216.8 778.4 220.8 774.8 225.7 772.4C230.6 770 237 765.1 242.2 764.2C247.4 763.3 252 765.6 256.9 767C261.8 768.4 266.9 772.1 271.5 772.4C276.1 772.7 280 770.5 284.3 768.8C288.6 767.1 292.8 762.9 297.1 762.4C301.4 761.9 307.8 765.4 309.9 766M218.4 766C217.7 767.4 214.7 771.1 213.9 774.3C213.2 777.5 213.2 781.3 213.9 785.3C214.7 789.3 218 793.8 218.4 798.1C218.8 802.4 217.8 806.6 216.6 810.9C215.4 815.2 211.7 819.4 211.1 823.7C210.5 828 213.1 832.1 212.9 836.5C212.8 840.9 210.6 847.9 210.2 850.2M282.5 760.6C284 762 289.6 765.3 291.6 768.8C293.6 772.3 294.1 777.3 294.4 781.6C294.7 785.9 292.9 790.4 293.4 794.4C293.8 798.4 296 801.4 297.1 805.4C298.2 809.4 300.5 814.6 299.9 818.2C299.3 821.9 295.1 824.2 293.4 827.3C291.7 830.3 290.1 833.6 289.8 836.5C289.5 839.4 290.7 842.6 291.6 844.7C292.5 846.8 294.7 848.5 295.3 849.3M201 847.5C202.4 846.9 205.5 844.6 209.3 843.8C213.1 843 219.6 843.2 223.9 842.9C228.2 842.6 231.2 842.9 234.9 842C238.6 841.1 242.2 838 245.9 837.4C249.6 836.8 253.5 837.4 256.9 838.3C260.2 839.2 262.4 841.8 266 842.9C269.6 844 274.8 844.9 278.8 844.7C282.8 844.6 286 843.7 289.8 842C293.6 840.3 299.7 835.9 301.7 834.7" fill="none" stroke="#b3cf24" stroke-width="1.5" stroke-linecap="round"/>
<path d="M245.9 771.8L241.3 773.6M246.5 774.1L242.5 775.8M247.2 776.5L243.6 778M247.9 778.9L244.8 780.2M248.5 781.3L246 782.3M249.2 783.7L247.1 784.5M224.9 800.4L220.8 803.3M226.1 802.7L222.4 805.2M227.3 804.9L224 807.2M228.6 807.1L225.6 809.1M229.8 809.3L227.3 811.1M231.1 811.6L228.9 813.1M232.3 813.8L230.5 815M236.7 826.5L233 826.5M236.7 828.5L233 828.5M236.7 830.5L233 830.5M236.7 832.6L233 832.6M236.7 834.6L233 834.6M300.8 778.9L297.1 779M300.9 780.9L297.2 781M301 782.9L297.3 783M301 784.9L297.3 785M301.1 786.9L297.4 787.1M268.3 843.1L266.3 847.5M270.6 844.6L269 848.3M273 846.1L271.6 849M275.3 847.6L274.3 849.8M265.4 778.7L262.4 780.8M266.7 780.5L263.7 782.7M268 782.4L264.9 784.5M269.3 784.2L266.2 786.3M270.5 786L267.5 788.1M198.9 789.1L196.3 786.5M197.4 790.6L194.8 788M195.9 792.1L193.3 789.4M194.5 793.5L191.9 790.9M193 795L190.4 792.4M215 808.8L211.4 809.7M215.6 811L212 811.9M216.1 813.2L212.5 814.1M216.7 815.4L213.1 816.3M217.2 817.6L213.6 818.5M287.3 803.9L284.9 801.1M285.5 805.4L283.1 802.6M283.7 807L281.3 804.1M290 829.5L287.8 826.5M288.2 830.9L285.9 827.9M286.3 832.3L284.1 829.3M284.5 833.6L282.3 830.7" stroke="#111" stroke-width="1.4" fill="none"/>
<path d="M236.7 785.6L248.6 788.9M255.9 786.2L259.6 778.9M255.9 793.5L260.5 799.9M248.6 793.5L243.1 799.9M237.6 806.3L236.4 815.4M240.4 820L246.8 820.4M223.9 822.8L231.2 820.4M302.6 789.8L306.3 784.3M303.5 795.3L308.1 799M299.9 797.2L300.8 802.6M288 847.5L297.1 843.8M279.7 853L274.2 857.5M286.1 853L289.8 857M311.7 780.7L316.3 778.9" stroke="#111" stroke-width="1.1" fill="none" clip-path="url(#cpM)"/>
<circle cx="243.1" cy="768.4" r="3.1" fill="#12b34b"/>
<circle cx="201" cy="784.7" r="3.1" fill="#12b34b"/>
<circle cx="221.7" cy="798.4" r="3.1" fill="#12b34b"/>
<circle cx="298.6" cy="775.2" r="3.1" fill="#12b34b"/>
<circle cx="289.4" cy="799.9" r="3.1" fill="#12b34b"/>
<circle cx="291.6" cy="826.1" r="3.1" fill="#12b34b"/>
<circle cx="234.9" cy="838.9" r="3.1" fill="#12b34b"/>
<circle cx="263.8" cy="843.8" r="3.1" fill="#12b34b"/>
<text x="252.8" y="793.2" font-size="9.4" font-weight="bold" fill="#d0308c" text-anchor="middle">M</text>
<text x="235.3" y="823.4" font-size="9.4" font-weight="bold" fill="#d0308c" text-anchor="middle">M</text>
<text x="299.3" y="796.3" font-size="9.4" font-weight="bold" fill="#d0308c" text-anchor="middle">M</text>
<text x="282.8" y="853.1" font-size="9.4" font-weight="bold" fill="#d0308c" text-anchor="middle">M</text>
<text x="232.1" y="787.8" font-size="6.9" font-weight="bold" fill="#c41fc4" text-anchor="middle">Cl</text>
<text x="261.4" y="778.6" font-size="6.9" font-weight="bold" fill="#c41fc4" text-anchor="middle">Br</text>
<text x="263.3" y="804.2" font-size="6.9" font-weight="bold" fill="#c41fc4" text-anchor="middle">Br</text>
<text x="251" y="823.4" font-size="6.9" font-weight="bold" fill="#c41fc4" text-anchor="middle">Cl</text>
<text x="219.3" y="826.2" font-size="6.9" font-weight="bold" fill="#c41fc4" text-anchor="middle">Br</text>
<text x="308.1" y="785" font-size="6.9" font-weight="bold" fill="#c41fc4" text-anchor="middle">Cl</text>
<text x="310.3" y="803.9" font-size="6.9" font-weight="bold" fill="#c41fc4" text-anchor="middle">Br</text>
<text x="301.3" y="808.8" font-size="6.9" font-weight="bold" fill="#c41fc4" text-anchor="middle">Cl</text>
<text x="300.2" y="845.8" font-size="6.9" font-weight="bold" fill="#c41fc4" text-anchor="middle">Cl</text>
<text transform="translate(239.6 803) rotate(-52)" font-size="7.2" font-weight="bold" fill="#d8348c" text-anchor="middle" y="2">Cl</text>
<path d="M207.9 804.7L203.1 811.3L195.4 808.8L195.4 800.6L203.1 798.1Z" fill="none" stroke="#5a5ae6" stroke-width="0.9" stroke-linejoin="round"/><path d="M206.3 804.7L202.6 809.7L196.7 807.8L196.7 801.6L202.6 799.7Z" fill="none" stroke="#5a5ae6" stroke-width="0.55" opacity="0.8"/><circle cx="201" cy="804.7" r="2.9" fill="none" stroke="#5a5ae6" stroke-width="0.7"/><path d="M199.5 804.7h3M201 803.2v3" stroke="#5a5ae6" stroke-width="0.7"/><path d="M207.9 804.7L211.3 804.7M195.4 808.8L192.7 810.8M195.4 800.6L192.7 798.6M203.9 813.7L205.6 820L201 825.5L203.8 832.8L198.3 838.3M203.9 795.7L205.6 790.7" fill="none" stroke="#5a5ae6" stroke-width="1.15" stroke-linejoin="round" stroke-linecap="round"/><text x="214.2" y="806.6" font-size="5.2" font-weight="bold" fill="#5a5ae6" text-anchor="middle">H</text><text x="190.3" y="814.4" font-size="5.2" font-weight="bold" fill="#5a5ae6" text-anchor="middle">H</text><text x="190.3" y="798.8" font-size="5.2" font-weight="bold" fill="#5a5ae6" text-anchor="middle">H</text><text x="203.2" y="813.4" font-size="5.4" font-weight="bold" fill="#5a5ae6" text-anchor="middle" stroke="#fff" stroke-width="1.5" paint-order="stroke">N</text><text x="203.2" y="799.8" font-size="5.4" font-weight="bold" fill="#5a5ae6" text-anchor="middle" stroke="#fff" stroke-width="1.5" paint-order="stroke">N</text>
<path d="M273.3 787L273.1 778.8L280.8 776.2L285.7 782.7L281 789.3Z" fill="none" stroke="#5a5ae6" stroke-width="0.9" stroke-linejoin="round"/><path d="M274.6 786L274.5 779.8L280.3 777.7L284.1 782.7L280.5 787.8Z" fill="none" stroke="#5a5ae6" stroke-width="0.55" opacity="0.8"/><circle cx="278.8" cy="782.8" r="2.9" fill="none" stroke="#5a5ae6" stroke-width="0.7"/><path d="M277.3 782.8h3M278.8 781.3v3" stroke="#5a5ae6" stroke-width="0.7"/><path d="M273.3 787L270.6 789M280.8 776.2L281.8 773M285.7 782.7L289.1 782.6M271 777.4L267.8 772.4L268.7 767L263.3 763.3L264.2 757.8M281.9 791.8L283.4 794.4" fill="none" stroke="#5a5ae6" stroke-width="1.15" stroke-linejoin="round" stroke-linecap="round"/><text x="268.3" y="792.6" font-size="5.2" font-weight="bold" fill="#5a5ae6" text-anchor="middle">H</text><text x="282.7" y="772.1" font-size="5.2" font-weight="bold" fill="#5a5ae6" text-anchor="middle">H</text><text x="292" y="784.5" font-size="5.2" font-weight="bold" fill="#5a5ae6" text-anchor="middle">H</text><text x="272.9" y="780.6" font-size="5.4" font-weight="bold" fill="#5a5ae6" text-anchor="middle" stroke="#fff" stroke-width="1.5" paint-order="stroke">N</text><text x="281.1" y="791.5" font-size="5.4" font-weight="bold" fill="#5a5ae6" text-anchor="middle" stroke="#fff" stroke-width="1.5" paint-order="stroke">N</text>
<path d="M279 826.4L271.1 824.5L270.4 816.4L277.9 813.3L283.2 819.4Z" fill="none" stroke="#5a5ae6" stroke-width="0.9" stroke-linejoin="round"/><path d="M278.4 824.9L272.3 823.5L271.8 817.3L277.5 814.8L281.6 819.5Z" fill="none" stroke="#5a5ae6" stroke-width="0.55" opacity="0.8"/><circle cx="276.3" cy="820" r="2.9" fill="none" stroke="#5a5ae6" stroke-width="0.7"/><path d="M274.8 820h3M276.3 818.5v3" stroke="#5a5ae6" stroke-width="0.7"/><path d="M279 826.4L280.3 829.5M270.4 816.4L267.5 814.7M277.9 813.3L278.6 810M269.1 826.2L263.3 830.1L255 828.3L248.6 832.8L242.2 829.5M285.8 819.2L293.4 819.7" fill="none" stroke="#5a5ae6" stroke-width="1.15" stroke-linejoin="round" stroke-linecap="round"/><text x="281.5" y="834.1" font-size="5.2" font-weight="bold" fill="#5a5ae6" text-anchor="middle">H</text><text x="265" y="815.1" font-size="5.2" font-weight="bold" fill="#5a5ae6" text-anchor="middle">H</text><text x="279.3" y="809" font-size="5.2" font-weight="bold" fill="#5a5ae6" text-anchor="middle">H</text><text x="270.9" y="826.6" font-size="5.4" font-weight="bold" fill="#5a5ae6" text-anchor="middle" stroke="#fff" stroke-width="1.5" paint-order="stroke">N</text><text x="283.5" y="821.3" font-size="5.4" font-weight="bold" fill="#5a5ae6" text-anchor="middle" stroke="#fff" stroke-width="1.5" paint-order="stroke">N</text>
<rect x="331" y="633.3" width="213.8" height="57.7" fill="none" stroke="#999" stroke-width="0.9" stroke-dasharray="2.2 1.8"/>
<path d="M345.4 648.8L356 640.6L366.5 648.6L363.5 658.8L349.6 658.8Z" fill="none" stroke="#111" stroke-width="1.3" stroke-linejoin="round"/>
<circle cx="355.9" cy="651.6" r="4.9" fill="none" stroke="#111" stroke-width="1.1"/>
<path d="M353.1 651.6h5.6M355.9 648.8v5.6" stroke="#111" stroke-width="1.1"/>
<path d="M335.2 642.3L343.6 647.4M369.3 647L378.3 643L387.5 649.6L396.4 644L403 648.4" fill="none" stroke="#111" stroke-width="1.35" stroke-linejoin="round"/>
<text x="345.4" y="651" font-size="6.6" fill="#111" text-anchor="middle" stroke="#fff" stroke-width="1.6" paint-order="stroke">N</text>
<text x="366.8" y="650.8" font-size="6.6" fill="#111" text-anchor="middle" stroke="#fff" stroke-width="1.6" paint-order="stroke">N</text>
<path d="M467.3 647.9L477.9 639.7L488.4 647.7L485.4 657.9L471.5 657.9Z" fill="none" stroke="#111" stroke-width="1.3" stroke-linejoin="round"/>
<circle cx="477.8" cy="650.7" r="4.9" fill="none" stroke="#111" stroke-width="1.1"/>
<path d="M475 650.7h5.6M477.8 647.9v5.6" stroke="#111" stroke-width="1.1"/>
<path d="M457.1 641.4L465.5 646.5M491.2 646.1L500.2 642.1L509.4 648.7L518.3 643.1L524.9 647.5" fill="none" stroke="#111" stroke-width="1.35" stroke-linejoin="round"/>
<text x="467.3" y="650.1" font-size="6.6" fill="#111" text-anchor="middle" stroke="#fff" stroke-width="1.6" paint-order="stroke">N</text>
<text x="488.7" y="649.9" font-size="6.6" fill="#111" text-anchor="middle" stroke="#fff" stroke-width="1.6" paint-order="stroke">N</text>
<text x="380.7" y="662.9" font-size="10.2" stroke="#111" stroke-width="0.2">Br</text>
<circle cx="394.4" cy="653.6" r="2.5" fill="none" stroke="#111" stroke-width="0.8"/><path d="M392.9 653.6h3" stroke="#111" stroke-width="0.8"/>
<path d="M407.3 653.2H447" stroke="#111" stroke-width="1.35"/><path d="M452.3 653.2L445 650.3L446.6 653.2L445 656.1Z" fill="#111"/>
<text x="417.8" y="646" font-size="9.6" fill="#e01818" stroke="#e01818" stroke-width="0.3">MCl<tspan font-size="5.5" dy="1.6">n</tspan></text>
<text x="403.6" y="666.6" font-size="8.6" fill="#e01818" stroke="#e01818" stroke-width="0.3" textLength="48.6" lengthAdjust="spacingAndGlyphs">M=Zn, Ca, Zr</text>
<text x="494.7" y="660.8" font-size="9.5" fill="#e01818" stroke="#e01818" stroke-width="0.3" textLength="40.6" lengthAdjust="spacingAndGlyphs">[MCl<tspan font-size="6.8" dy="2.6" font-weight="bold">x</tspan><tspan dy="-2.6">Br</tspan><tspan font-size="6.8" dy="2.6" font-weight="bold">y</tspan><tspan dy="-2.6">]</tspan></text>
<circle cx="538.9" cy="651.5" r="2.5" fill="none" stroke="#e01818" stroke-width="0.8"/><path d="M537.4 651.5h3" stroke="#e01818" stroke-width="0.8"/>
<text x="345.6" y="684.5" font-size="9.8" stroke="#111" stroke-width="0.3" textLength="40" lengthAdjust="spacingAndGlyphs">[Bmim]Br</text>
<text x="467.9" y="684.5" font-size="9.8" stroke="#111" stroke-width="0.3" textLength="50.4" lengthAdjust="spacingAndGlyphs">[Bmim][MX]</text>
<linearGradient id="gTeal" x1="0" y1="0" x2="0.25" y2="1"><stop offset="0" stop-color="#7cbcb1"/><stop offset="0.6" stop-color="#86c3b9"/><stop offset="0.8" stop-color="#93cbc3"/><stop offset="1" stop-color="#a2d6ce"/></linearGradient>
<linearGradient id="gTeal2" x1="0" y1="0" x2="0.2" y2="1"><stop offset="0" stop-color="#80c8b9"/><stop offset="0.6" stop-color="#86cdbf"/><stop offset="1" stop-color="#98d6cb"/></linearGradient>
<linearGradient id="gW" x1="0" y1="0" x2="1" y2="0"><stop offset="0" stop-color="#443c3d"/><stop offset="0.5" stop-color="#2b2a2c"/><stop offset="1" stop-color="#393436"/></linearGradient>
<clipPath id="cpL"><rect x="338.4" y="712.3" width="96.4" height="144.6"/></clipPath>
<g clip-path="url(#cpL)">
<rect x="338.4" y="712.3" width="96.4" height="144.6" fill="url(#gTeal)"/>
<rect x="414" y="712.3" width="9" height="100" fill="#92cdc2" opacity="0.5"/>
<ellipse cx="388" cy="845" rx="42" ry="5" fill="#78b8ad" opacity="0.45"/>
<path d="M376.1 711.4C376.2 713.3 376.2 720.2 376.9 723.1C377.6 726 378.6 727.6 380.3 729C382 730.4 385.2 731.6 387 731.5C388.8 731.3 390.2 729.4 391.2 728.1C392.2 726.9 392.2 723.9 392.9 723.9C393.6 723.9 394.4 726.6 395.4 728.1C396.4 729.7 397.1 732.1 398.7 733.2C400.4 734.2 403.5 735.3 405.4 734.5C407.4 733.7 409.4 730.6 410.5 728.1C411.6 725.7 412.2 722.5 412.2 719.7C412.2 716.9 410.8 712.8 410.5 711.4Z" fill="#2f55c6"/>
<path d="M383.6 719.7C384.2 720.4 385.9 723.7 387 723.9C388.1 724.2 389.8 721.8 390.4 721.4M398.7 723.9C399.3 724.6 400.8 728 402.1 728.1C403.3 728.3 405.6 725.3 406.3 724.8M385.3 713C385.5 713.9 386 717.2 386.2 718.1" fill="none" stroke="#1c3a9c" stroke-width="1.3"/>
<path d="M392.9 733.2L397.9 752.4" stroke="#e2a07c" stroke-width="1.4" fill="none"/>
<path d="M397.9 752.4C396.9 753.7 394.9 757.1 392 760C389.1 762.9 384.2 766.4 380.3 770C376.4 773.6 371.9 778.1 368.5 781.8C365.1 785.4 362.4 789.1 360.2 791.9C358 794.7 356 797.5 355.1 798.6" stroke="#f3f1ec" stroke-width="1.7" fill="none"/>
<path d="M397.9 752.4C399.7 756.2 405.3 768 408.8 775.1C412.3 782.2 416.4 788.5 418.9 795.2C421.4 801.9 422.9 810.3 423.9 815.3C424.9 820.3 424.6 823.7 424.7 825.4M399.6 753.3C402 757.5 410.2 771.5 413.8 778.4C417.5 785.4 419.4 789.1 421.4 795.2C423.3 801.4 424.9 812 425.6 815.3" stroke="#f3f1ec" stroke-width="1.2" fill="none"/>
<rect x="341.4" y="812.8" width="10" height="4.2" rx="1" fill="#8d9196"/><rect x="422.6" y="815.3" width="8" height="4.2" rx="1" fill="#a0a4a8"/>
<path d="M349 818L346.5 828M351 820L348 826" stroke="#e8e6e0" stroke-width="0.9"/>
<rect x="373.6" y="813" width="26.4" height="7.2" fill="#1a1a1a"/>
<rect x="379.4" y="813.6" width="14.4" height="6" fill="#27a24a"/>
<path d="M384 813.6v6M388.6 813.6v6" stroke="#111" stroke-width="1.3"/>
<path d="M351 800Q351 792 356 792H370.5Q374.4 792 374.4 798V837Q374.4 842.4 369 842.4H356Q351 842.4 351 836Z" fill="url(#gW)"/>
<path d="M362.6 792.4V842" stroke="#1d1617" stroke-width="1.1"/>
<path d="M399.6 800Q399.6 793.5 405 793.5H418Q423.1 793.5 423.1 800V838Q423.1 843 418 843H405Q399.6 843 399.6 837Z" fill="url(#gW)"/>
<path d="M411.4 794V843" stroke="#1d1617" stroke-width="1.1"/>
<path d="M356.8 796.6L358 792.7H366V796.9Z" fill="#2ea04a"/>
<path d="M409.6 798.4V794.4H417L418 798.6Z" fill="#2ea04a"/>
<rect x="362.7" y="807" width="10" height="15" fill="#33a550"/>
<text x="374.4" y="810.3" font-size="10.4" font-weight="bold" fill="#ee1c1c" textLength="23.6" lengthAdjust="spacingAndGlyphs">10 kg</text>
<rect x="375.3" y="844.7" width="19.2" height="12.2" fill="#dff3ef"/>
<text x="378.9" y="855.3" font-size="13" fill="#111" stroke="#111" stroke-width="0.3" textLength="13.2" lengthAdjust="spacingAndGlyphs">IG</text>
</g>
<clipPath id="cpR"><rect x="441.7" y="712.7" width="96.9" height="144.2"/></clipPath>
<g clip-path="url(#cpR)">
<rect x="441.7" y="712.7" width="96.9" height="144.2" fill="url(#gTeal2)"/>
<rect x="490" y="712.7" width="16" height="130" fill="#74b8a9" opacity="0.45"/>
<path d="M454.8 815.3L479.9 812L488.3 825.4L495 832.1L471.5 837.2L456.5 828.8Z" fill="#6fb3a8" opacity="0.45"/>
<path d="M501.7 825.4L525.2 825.4L528.6 835.5L505.1 837.2Z" fill="#6fb3a8" opacity="0.35"/>
<path d="M469 711.4C469.4 712.2 470 715.2 471.5 716.4C473.1 717.6 476 718.4 478.3 718.4C480.5 718.4 483.3 717.3 485 716.4C486.6 715.4 487.8 713.5 488.3 712.7C488.9 711.9 488.3 711.6 488.3 711.4Z" fill="#2e4097"/>
<path d="M494.2 711.4C494.5 712 494.6 714.3 495.9 715C497.1 715.8 500.2 716.1 501.7 715.7C503.3 715.4 504.5 713.8 505.1 713C505.7 712.3 505.1 711.6 505.1 711.4Z" fill="#2e4097"/>
<path d="M486.6 716.4L490 722.3L493.4 716.4" stroke="#e3735a" stroke-width="1.3" fill="none"/>
<path d="M490 722.3L457.3 769.2" stroke="#e4e6e6" stroke-width="2.4" fill="none"/><path d="M490.2 723L457.8 769.2" stroke="#c3cccb" stroke-width="0.5" fill="none"/>
<path d="M491.7 722.3L505.1 743.2L516.8 762.5L529.4 791.9L531.9 805.3" stroke="#e4e6e6" stroke-width="2.2" fill="none" stroke-linejoin="round"/>
<rect x="505.4" y="712.7" width="33.2" height="49.8" fill="#9fdacf"/>
<path d="M505.9 712.2C506.1 713.6 505.8 718.7 506.8 720.6C507.7 722.5 510.1 723.3 511.8 723.4C513.5 723.6 515.8 722.9 516.8 721.4C517.9 720 518.2 716.2 518.2 714.7C518.2 713.2 517.1 712.6 516.8 712.2Z" fill="#2e4097"/>
<path d="M526.6 712.2C526.8 713 526.6 716.1 527.7 717.2C528.9 718.3 531.8 718.8 533.6 718.9C535.4 719 537.8 719.2 538.6 718.1C539.5 716.9 538.6 713.2 538.6 712.2Z" fill="#2e4097"/>
<path d="M511.8 723.1C512 724.8 512.4 730.1 513.1 733.2C513.9 736.2 515.8 740.1 516.3 741.5M532.9 719.7C532.8 721.7 532.7 727.8 531.9 731.5C531.2 735.1 529.1 739.9 528.6 741.5" stroke="#e57258" stroke-width="2.2" fill="none"/>
<path d="M516 742.4L527.7 742L526.1 746.9L518.2 746.9Z" fill="#e57258"/>
<path d="M516.8 741.5C516 742.9 513.6 746.6 511.8 749.9C510 753.2 506.9 759.4 505.9 761.3M518.2 744.1C517.4 745.3 515.1 748.7 513.5 751.6C511.9 754.5 509.3 760 508.4 761.7M526.9 741.2C527.9 742.7 530.8 747.1 532.8 749.9C534.7 752.8 537.7 756.9 538.6 758.3M525.2 744.1C526.1 745.3 528.4 748.7 530.3 751.6C532.1 754.5 535.1 759.7 536.1 761.3" stroke="#f4f2ee" stroke-width="1.7" fill="none"/>
<rect x="505.4" y="712.7" width="33.2" height="49.8" fill="none" stroke="#d6b8b0" stroke-width="0.6" stroke-dasharray="1.6 1"/>
<path d="M453.9 771.2L479.4 768.4L484.1 786.8L477.6 808.6L457 815.6L446.4 799L446.4 781.8Z" fill="url(#gW)"/>
<path d="M460.6 770.4L454.6 782L455 799L463.4 813.2" stroke="#1d1617" stroke-width="1.1" fill="none"/>
<path d="M459.8 767.9L469 767L469.5 770.4L459.5 771.1Z" fill="#2ea04a"/>
<rect x="458.1" y="779.3" width="10.9" height="14.2" fill="#36a853"/>
<rect x="479" y="788.8" width="19.4" height="7" fill="#151515"/>
<rect x="484" y="789.2" width="11.4" height="6.4" fill="#27a24a"/>
<path d="M488.4 789.2v6.4M492 789.2v6.4" stroke="#111" stroke-width="1.2"/>
<path d="M498.4 778Q498.4 770.9 504 770.9H520Q525.2 770.9 525.2 778V818Q525.2 825.4 519 825.4H504Q498.4 825.4 498.4 818Z" fill="url(#gW)"/>
<path d="M510.4 771V825.4" stroke="#1d1617" stroke-width="1.2"/>
<path d="M500.9 770.7L520.2 770.1L521.2 773.7L500.4 774.4Z" fill="#2a8f45"/>
<path d="M522 792C526 789.5 529.6 791.6 529.4 797C529.2 802 526 804.6 522 803.4Z" fill="#2bb04e"/>
<rect x="529.4" y="794.6" width="8.4" height="3.8" fill="#9a9fa3"/>
<path d="M530 799.6L533 806.6M532.6 800L530.6 806" stroke="#f4f2ee" stroke-width="1.2"/>
<rect x="469.9" y="843" width="40.2" height="13.9" fill="#dff3ef"/>
<text x="473.2" y="855" font-size="13" fill="#111" stroke="#111" stroke-width="0.3" textLength="33.6" lengthAdjust="spacingAndGlyphs">IG-[M]</text>
</g>
<circle cx="37.3" cy="885.5" r="4.9" fill="url(#gIonB)"/>
<path d="M59.4 885.3L68.6 879.6L77.6 885L74 894.8L63.2 894.8Z" fill="none" stroke="#111" stroke-width="1" stroke-linejoin="round"/>
<circle cx="68.6" cy="888.2" r="3.7" fill="none" stroke="#111" stroke-width="0.9"/><path d="M66.6 888.2h4M68.6 886.2v4" stroke="#111" stroke-width="0.9"/>
<path d="M47.8 878.8L57.6 884.4M80.3 884.1L90.5 880.6L99.2 885.5L106.5 881.2L112.9 885.5" fill="none" stroke="#111" stroke-width="1.1" stroke-linejoin="round"/>
<text x="59.6" y="887.2" font-size="5.4" text-anchor="middle" stroke="#fff" stroke-width="1.4" paint-order="stroke">N</text>
<text x="77.7" y="887" font-size="5.4" text-anchor="middle" stroke="#fff" stroke-width="1.4" paint-order="stroke">N</text>
<circle cx="124.8" cy="885.5" r="4.9" fill="url(#gIonT)"/>
<text x="136.1" y="890.6" font-size="10" stroke="#111" stroke-width="0.25">Br<tspan font-size="7" dy="-4.4">-</tspan></text>
<circle cx="164.6" cy="886.4" r="5.2" fill="#e60000"/>
<text x="179.1" y="890.6" font-size="10" stroke="#111" stroke-width="0.25">[MX]<tspan font-size="7" dy="-4.4">-</tspan></text>
<path d="M217.2 884.8C217.8 885.1 219.4 886.2 220.5 886.6C221.6 887 222.8 887.3 224 887C225.2 886.7 226.3 885 227.5 884.6C228.7 884.2 230.6 884.4 231.2 884.4" fill="none" stroke="#b3cf24" stroke-width="1.9" stroke-linecap="round"/>
<circle cx="225.6" cy="889.3" r="1.9" fill="#12b34b"/>
<path d="M241.6 881.2L248.6 877L255.6 883.4L265 877.6L273.8 882.4M255.6 883.4V890" fill="none" stroke="#111" stroke-width="1.1" stroke-linejoin="round"/>
<path d="M246.4 874.4L245 875.2L248.4 882.2L249.8 881.6M270.4 873.6L271.8 874.2L275.2 881.2L273.8 882" fill="none" stroke="#111" stroke-width="0.9"/>
<text x="275.6" y="884.6" font-size="3.6">n</text>
<path d="M255.6 890L250.6 893.2M255 890.2L259.6 893M256.2 888.8L260.8 891.6M246 893L240.8 890M248.2 897.8V902.6" fill="none" stroke="#118a1c" stroke-width="1.1"/>
<text x="248.2" y="897.6" font-size="6.4" font-weight="bold" fill="#118a1c" text-anchor="middle">N</text>
<text x="262.4" y="897.4" font-size="6.4" font-weight="bold" fill="#118a1c" text-anchor="middle">O</text>
<path d="M290.9 886.6v5.2M295.5 886.6v5.2M300.1 886.6v5.2M304.7 886.6v5.2M309.3 886.6v5.2" stroke="#111" stroke-width="2" fill="none"/>
<text x="315" y="893.5" font-size="10" stroke="#111" stroke-width="0.3" textLength="69.4" lengthAdjust="spacingAndGlyphs">Hydrogen bond</text>
<path d="M402 889v1.3M405.4 889v1.3M408.9 888.9v1.5M412.4 888.1v3M415.8 887.6v4M419.2 887.1v5M422.7 886.8v5.6" stroke="#111" stroke-width="1.9" fill="none"/>
<text x="427.4" y="893.5" font-size="10" stroke="#111" stroke-width="0.3" textLength="110" lengthAdjust="spacingAndGlyphs">Metal coordination bond</text>
</g>
<!-- pE -->
<g font-family="Liberation Sans, sans-serif" font-weight="bold" fill="#000">
<text x="564" y="652.8" font-size="25.2">E</text>
<rect x="609" y="637.3" width="301.2" height="219.7" fill="none" stroke="#000" stroke-width="1.5"/>
<path d="M609 852.1h-4.6M609 825.2h-2.6M609 798.4h-4.6M609 771.5h-2.6M609 744.7h-4.6M609 717.9h-2.6M609 691h-4.6M609 664.1h-2.6M609 637.3h-4.6M616.3 857v4.4M653.1 857v2.6M689.9 857v4.4M726.7 857v2.6M763.5 857v4.4M800.3 857v2.6M837.1 857v4.4M873.9 857v2.6M910.7 857v4.4" stroke="#000" stroke-width="1.4" fill="none"/>
<text x="603" y="857.1" font-size="13.9" text-anchor="end" textLength="8.9" lengthAdjust="spacingAndGlyphs">0</text>
<text x="603" y="803.4" font-size="13.9" text-anchor="end" textLength="8.9" lengthAdjust="spacingAndGlyphs">1</text>
<text x="603" y="749.7" font-size="13.9" text-anchor="end" textLength="8.9" lengthAdjust="spacingAndGlyphs">2</text>
<text x="603" y="696" font-size="13.9" text-anchor="end" textLength="8.9" lengthAdjust="spacingAndGlyphs">3</text>
<text x="603" y="642.1" font-size="13.9" text-anchor="end" textLength="8.9" lengthAdjust="spacingAndGlyphs">4</text>
<text x="616.3" y="876" font-size="13.4" text-anchor="middle" textLength="8.4" lengthAdjust="spacingAndGlyphs">0</text>
<text x="689.9" y="876" font-size="13.4" text-anchor="middle" textLength="30.4" lengthAdjust="spacingAndGlyphs">1500</text>
<text x="763.5" y="876" font-size="13.4" text-anchor="middle" textLength="30.4" lengthAdjust="spacingAndGlyphs">3000</text>
<text x="837.1" y="876" font-size="13.4" text-anchor="middle" textLength="30.4" lengthAdjust="spacingAndGlyphs">4500</text>
<text x="910.1" y="876" font-size="13.4" text-anchor="middle" textLength="30.4" lengthAdjust="spacingAndGlyphs">6000</text>
<text x="759.2" y="899.6" font-size="18" text-anchor="middle" textLength="84" lengthAdjust="spacingAndGlyphs">Strain (%)</text>
<text transform="translate(580.9 735.7) rotate(-90)" font-size="19.6" text-anchor="middle" textLength="112" lengthAdjust="spacingAndGlyphs">Stress (MPa)</text>
<path d="M616.3 852.1L635.9 850.5L656.5 849.3L656.7 852.4" fill="none" stroke="#111" stroke-width="1.5"/>
<path d="M616.3 852.1C616.3 851 616.2 847.8 616.2 845.7C616.2 843.5 616 840.9 616.3 839.2C616.6 837.5 617 836.3 617.8 835.5C618.5 834.6 619.3 834.4 620.7 834.1C622.1 833.8 623.7 834.1 626.1 833.8C628.5 833.6 630.9 833.4 634.9 832.8C639 832.1 645.6 831.1 650.6 830.1C655.7 829.1 660.5 828.1 665.4 826.9C670.3 825.7 675.2 824.4 680.1 822.8C685 821.3 689.9 819.5 694.8 817.7C699.7 815.9 704.6 814.2 709.5 812.1C714.4 810 719.3 807.8 724.2 805.4C729.2 802.9 734.1 800.2 739 797.3C743.9 794.5 748.8 791.3 753.7 788.2C758.6 785.1 763.5 781.9 768.4 778.5C773.3 775.1 778.2 771.6 783.1 767.8C788 764 792.9 760.2 797.8 756C802.8 751.8 807.7 747.2 812.6 742.6C817.5 737.9 822.4 733 827.3 728.1C832.2 723.1 837.1 718.5 842 713C846.9 707.6 851.8 701.4 856.7 695.3C861.6 689.2 867.4 681.7 871.4 676.5C875.5 671.3 879.6 666.2 881.3 664.1L881.7 852.1" fill="none" stroke="#6a0000" stroke-width="2.0" stroke-linejoin="round"/>
<path d="M616.3 852.1C616.3 851 616.2 847.8 616.2 845.7C616.2 843.5 616 840.9 616.3 839.2C616.6 837.5 617 836.3 617.8 835.5C618.5 834.6 619.3 834.4 620.7 834.1C622.1 833.8 623.7 834.1 626.1 833.8C628.5 833.6 630.9 833.4 634.9 832.8C639 832.1 645.6 831.1 650.6 830.1C655.7 829.1 660.5 828.1 665.4 826.9C670.3 825.7 675.2 824.4 680.1 822.8C685 821.3 689.9 819.5 694.8 817.7C699.7 815.9 704.6 814.2 709.5 812.1C714.4 810 719.3 807.8 724.2 805.4C729.2 802.9 734.1 800.2 739 797.3C743.9 794.5 748.8 791.3 753.7 788.2C758.6 785.1 763.5 781.9 768.4 778.5C773.3 775.1 778.2 771.6 783.1 767.8C788 764 792.9 760.2 797.8 756C802.8 751.8 807.7 747.2 812.6 742.6C817.5 737.9 822.4 733 827.3 728.1C832.2 723.1 837.1 718.5 842 713C846.9 707.6 851.8 701.4 856.7 695.3C861.6 689.2 867.4 681.7 871.4 676.5C875.5 671.3 879.6 666.2 881.3 664.1L881.7 852.1" fill="none" stroke="#f01010" stroke-width="1.45" stroke-linejoin="round"/>
<path d="M781.6 807.3H812.2" stroke="#111" stroke-width="1.5"/>
<path d="M781.6 827.8H812.2" stroke="#e01010" stroke-width="1.7"/>
<text x="818.3" y="812" font-size="13" textLength="14.7" lengthAdjust="spacingAndGlyphs">IG</text>
<text x="818.3" y="832.8" font-size="13" textLength="45.3" lengthAdjust="spacingAndGlyphs">IG-[Zn]</text>
<rect x="644.6" y="673.2" width="117.4" height="85.8" fill="#fff" stroke="#222" stroke-width="1.1"/>
<path d="M644.6 673.2h-2M644.6 713.8h-2M644.6 754.4h-2M644.6 693.5h-1.2M644.6 734.1h-1.2M648 759v2M685.6 759v2M723.2 759v2M760.8 759v2" stroke="#222" stroke-width="1" fill="none"/>
<text x="641.2" y="677.3" font-size="12.2" text-anchor="end" textLength="26.6" lengthAdjust="spacingAndGlyphs">0.06</text>
<text x="641.2" y="717.9" font-size="12.2" text-anchor="end" textLength="26.6" lengthAdjust="spacingAndGlyphs">0.03</text>
<text x="641.2" y="758.6" font-size="12.2" text-anchor="end" textLength="26.6" lengthAdjust="spacingAndGlyphs">0.00</text>
<text x="648" y="772.9" font-size="12.2" text-anchor="middle" textLength="7.2" lengthAdjust="spacingAndGlyphs">0</text>
<text x="685.6" y="772.9" font-size="12.2" text-anchor="middle" textLength="22.6" lengthAdjust="spacingAndGlyphs">300</text>
<text x="723.2" y="772.9" font-size="12.2" text-anchor="middle" textLength="22.6" lengthAdjust="spacingAndGlyphs">600</text>
<text x="761.8" y="772.9" font-size="12.2" text-anchor="middle" textLength="22.6" lengthAdjust="spacingAndGlyphs">900</text>
<path d="M647.9 673.6V755" stroke="#ee1c25" stroke-width="1.8"/>
<path d="M648 753.7C648.3 752.9 649 750.5 649.9 749C650.7 747.5 651.4 746.6 653 744.9C654.6 743.2 657 740.8 659.3 738.8C661.6 736.9 664.1 735.1 666.8 733.4C669.5 731.7 672.4 730.3 675.6 728.7C678.7 727.1 682.2 725.6 685.6 724C688.9 722.3 692.3 720.2 695.6 718.5C699 716.9 702.3 715.4 705.6 713.8C709 712.2 712.3 710.8 715.7 709.1C719 707.4 722.3 705.6 725.7 703.7C729 701.7 732.6 699.3 735.7 697.6C738.8 695.9 741.7 694.7 744.5 693.5C747.3 692.3 751.3 691 752.6 690.5L753 754.4" fill="none" stroke="#111" stroke-width="1.2" stroke-linejoin="round"/>
</g>
</svg>
</body></html>
